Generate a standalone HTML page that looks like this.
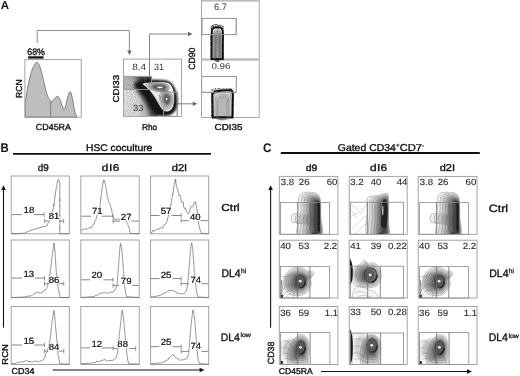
<!DOCTYPE html><html><head><meta charset="utf-8"><style>html,body{margin:0;padding:0;background:#fff;}svg{display:block;filter:blur(0.3px);}text{font-family:"Liberation Sans", sans-serif;text-rendering:geometricPrecision;}</style></head><body>
<svg width="520" height="376" viewBox="0 0 520 376">
<rect width="520" height="376" fill="#fff"/>
<text transform="translate(0.71,8.90) scale(1.004,1)" font-size="11.45" font-weight="bold" fill="#111" >A</text>
<path d="M37.2,43.0 L37.2,30.5 L129.4,30.5 L129.4,51.0" fill="none" stroke="#808080" stroke-width="0.9" stroke-linejoin="round" />
<path d="M127.2,50.5 L131.7,50.5 L129.4,55.0 Z" fill="#666"/>
<path d="M25.3,117.2 L25.3,101.6  C25.92,98.15 27.80,86.37 29.00,80.90 C30.20,75.43 31.35,71.82 32.50,68.80 C33.65,65.78 35.10,63.88 35.90,62.80 C36.70,61.72 36.72,61.87 37.30,62.30 C37.88,62.73 38.62,63.45 39.40,65.40 C40.18,67.35 41.13,70.70 42.00,74.00 C42.87,77.30 43.75,81.75 44.60,85.20 C45.45,88.65 46.10,92.02 47.10,94.70 C48.10,97.38 49.58,100.37 50.60,101.30 C51.62,102.23 52.33,100.97 53.20,100.30 C54.07,99.63 55.00,97.93 55.80,97.30 C56.60,96.67 57.28,96.07 58.00,96.50 C58.72,96.93 59.32,98.18 60.10,99.90 C60.88,101.62 61.98,105.13 62.70,106.80 C63.42,108.47 63.68,111.05 64.40,109.90 C65.12,108.75 66.22,102.72 67.00,99.90 C67.78,97.08 68.52,94.30 69.10,93.00 C69.68,91.70 69.98,91.38 70.50,92.10 C71.02,92.82 71.58,94.57 72.20,97.30 C72.82,100.03 73.48,105.30 74.20,108.50 C74.92,111.70 76.12,115.17 76.50,116.50 L77,117.2 Z" fill="#bebebe" stroke="#6a6a6a" stroke-width="0.8" stroke-linejoin="round"/>
<line x1="50.6" y1="101.3" x2="50.6" y2="117.2" stroke="#707070" stroke-width="0.8"/>
<rect x="24.9" y="59.6" width="56.30" height="57.60" fill="none" stroke="#9a9a9a" stroke-width="0.9"/>
<text transform="translate(27.26,54.60) scale(0.950,1)" font-size="9.29" font-weight="normal" fill="#111" stroke="#111" stroke-width="0.35">68%</text>
<rect x="28.1" y="56.3" width="15.4" height="2.3" fill="#111"/>
<text transform="translate(22.10,97.99) rotate(-90) scale(0.990,1)" font-size="8.71" font-weight="normal" fill="#111" stroke="#111" stroke-width="0.35">RCN</text>
<text transform="translate(35.85,130.20) scale(1.006,1)" font-size="8.86" font-weight="normal" fill="#111" stroke="#111" stroke-width="0.35">CD45RA</text>
<rect x="123.5" y="59.1" width="58.00" height="57.30" fill="none" stroke="#9a9a9a" stroke-width="0.9"/>
<text transform="translate(132.15,69.80) scale(1.098,1)" font-size="9.14" font-weight="normal" fill="#333" >8.4</text>
<text transform="translate(153.94,69.80) scale(0.997,1)" font-size="9.14" font-weight="normal" fill="#333" >31</text>
<text transform="translate(132.92,111.10) scale(1.068,1)" font-size="8.86" font-weight="normal" fill="#333" >33</text>
<text transform="translate(118.80,102.49) rotate(-90) scale(1.141,1)" font-size="8.57" font-weight="normal" fill="#111" stroke="#111" stroke-width="0.35">CDI33</text>
<text transform="translate(142.04,129.70) scale(0.984,1)" font-size="8.41" font-weight="normal" fill="#111" stroke="#111" stroke-width="0.35">Rho</text>
<rect x="124" y="76.4" width="27.50" height="13.00" fill="none" stroke="#9a9a9a" stroke-width="0.9"/>
<rect x="163.6" y="92.2" width="13.60" height="24.20" fill="none" stroke="#9a9a9a" stroke-width="0.9"/>
<path d="M149.5,75.8 L149.5,34.0 L188.5,34.0" fill="none" stroke="#777" stroke-width="0.9" stroke-linejoin="round" />
<path d="M188.0,31.8 L188.0,36.2 L192.5,34.0 Z" fill="#666"/>
<line x1="177.2" y1="103.8" x2="193.5" y2="103.8" stroke="#777" stroke-width="0.9"/>
<path d="M192.8,101.5 L192.8,106.0 L197.3,103.8 Z" fill="#666"/>
<text transform="translate(195.20,69.83) rotate(-90) scale(0.965,1)" font-size="9.00" font-weight="normal" fill="#111" stroke="#111" stroke-width="0.35">CD90</text>
<rect x="201.6" y="0.0" width="57.60" height="59.00" fill="none" stroke="#9a9a9a" stroke-width="0.9"/>
<rect x="201.6" y="0" width="57.6" height="1.6" fill="#bbb"/>
<text transform="translate(213.94,9.90) scale(0.993,1)" font-size="9.29" font-weight="normal" fill="#333" >6.7</text>
<rect x="201.9" y="18.4" width="34.30" height="16.20" fill="none" stroke="#9a9a9a" stroke-width="0.9"/>
<rect x="201.6" y="60.0" width="57.60" height="57.40" fill="none" stroke="#9a9a9a" stroke-width="0.9"/>
<text transform="translate(211.41,69.00) scale(1.161,1)" font-size="8.43" font-weight="normal" fill="#333" >0.96</text>
<rect x="201.6" y="76.5" width="34.70" height="15.80" fill="none" stroke="#9a9a9a" stroke-width="0.9"/>
<text transform="translate(214.51,129.80) scale(1.152,1)" font-size="8.57" font-weight="normal" fill="#111" stroke="#111" stroke-width="0.35">CDI35</text>
<defs>
<filter id="ab1" x="-30%" y="-30%" width="160%" height="160%"><feGaussianBlur stdDeviation="0.8"/></filter>
<filter id="ab2" x="-30%" y="-30%" width="160%" height="160%"><feGaussianBlur stdDeviation="1.6"/></filter>
<filter id="ab3" x="-30%" y="-30%" width="160%" height="160%"><feGaussianBlur stdDeviation="0.45"/></filter>
<filter id="speck" x="0" y="0" width="100%" height="100%">
 <feTurbulence type="fractalNoise" baseFrequency="1.1" numOctaves="1" seed="7" result="n"/>
 <feColorMatrix in="n" type="matrix" values="0 0 0 0 0  0 0 0 0 0  0 0 0 0 0  0 0 0 -3 2.1" result="al"/>
 <feComposite in="SourceGraphic" in2="al" operator="in"/>
</filter>
<linearGradient id="aband" x1="124" y1="0" x2="151" y2="0" gradientUnits="userSpaceOnUse">
 <stop offset="0" stop-color="#d2d2d2"/><stop offset="0.3" stop-color="#bdbdbd"/><stop offset="0.45" stop-color="#777"/><stop offset="0.6" stop-color="#2a2a2a"/><stop offset="1" stop-color="#222"/></linearGradient>
<linearGradient id="alow" x1="124" y1="0" x2="160" y2="0" gradientUnits="userSpaceOnUse">
 <stop offset="0" stop-color="#eeeeee"/><stop offset="0.4" stop-color="#e2e2e2"/><stop offset="0.6" stop-color="#b8b8b8"/><stop offset="0.8" stop-color="#555"/><stop offset="1" stop-color="#333"/></linearGradient>
<clipPath id="aclip"><rect x="124" y="59.6" width="57" height="56.4"/></clipPath>
</defs>
<g clip-path="url(#aclip)">
<path d="M124,89.5 L137,89.5 C143,93 149,100 154,108 C156,112 157,114 158,116.4 L124,116.4 Z" fill="url(#alow)" filter="url(#ab3)"/>
<path d="M124,89.5 L137,89.5 C143,93 149,100 154,108 C156,112 157,114 158,116.4 L124,116.4 Z" fill="#999" opacity="0.45" filter="url(#speck)"/>
<rect x="124.4" y="76.8" width="26.8" height="12.3" fill="url(#aband)" filter="url(#ab3)"/>
<rect x="124.4" y="76.8" width="26.8" height="12.3" fill="#777" opacity="0.5" filter="url(#speck)"/>
<path d="M134,84.5 C137,82 140,80.6 145,80.1 C152,79.6 160,79.7 166,80.4 C169.5,80.9 171.6,82.8 173.2,85.4 C175.2,88.5 176.7,93 177.5,98 C178,102 177.5,106 176.2,109.2 C174.7,112.3 172.2,114.3 168.6,115.5 C165,116.4 161,116.5 157.5,115.8 C154.5,114.8 152.3,112.5 150.5,109.5 C148,105 145.5,100 142.5,96 C140,92.8 137,89.5 134,84.5 Z" fill="#161616" filter="url(#ab1)"/>
<path d="M137,88 C140,90 143,94 146,99 C149,104 151.5,109 154,113 L156,116.4 L152,116.4 C149,112 146,106 143,101 C140.5,97 138,93 135.5,90 Z" fill="#333" opacity="0.7" filter="url(#ab2)"/>
<path d="M142.30,84.00 C142.30,83.20 144.88,82.93 146.50,82.60 C148.12,82.27 150.08,82.12 152.00,82.00 C153.92,81.88 155.87,81.92 158.00,81.90 C160.13,81.88 162.97,81.72 164.80,81.90 C166.63,82.08 167.83,82.32 169.00,83.00 C170.17,83.68 171.03,84.83 171.80,86.00 C172.57,87.17 173.18,88.50 173.60,90.00 C174.02,91.50 174.18,93.08 174.30,95.00 C174.42,96.92 174.43,99.67 174.30,101.50 C174.17,103.33 173.95,104.65 173.50,106.00 C173.05,107.35 172.52,108.63 171.60,109.60 C170.68,110.57 169.20,111.53 168.00,111.80 C166.80,112.07 165.53,111.75 164.40,111.20 C163.27,110.65 162.17,109.62 161.20,108.50 C160.23,107.38 159.47,105.92 158.60,104.50 C157.73,103.08 156.93,101.53 156.00,100.00 C155.07,98.47 154.00,96.77 153.00,95.30 C152.00,93.83 151.08,92.52 150.00,91.20 C148.92,89.88 147.78,88.60 146.50,87.40 C145.22,86.20 142.30,84.80 142.30,84.00 Z" fill="#f3f3f3" stroke="#222" stroke-width="0.8" filter="url(#ab3)"/>
<path d="M146.00,84.80 C145.92,83.87 148.33,83.67 150.00,83.40 C151.67,83.13 154.00,83.20 156.00,83.20 C158.00,83.20 160.08,83.18 162.00,83.40 C163.92,83.62 166.25,83.82 167.50,84.50 C168.75,85.18 169.42,86.45 169.50,87.50 C169.58,88.55 169.08,90.05 168.00,90.80 C166.92,91.55 165.00,91.93 163.00,92.00 C161.00,92.07 158.08,91.70 156.00,91.20 C153.92,90.70 152.17,90.07 150.50,89.00 C148.83,87.93 146.08,85.73 146.00,84.80 Z" fill="#000" fill-opacity="0.05" stroke="#555" stroke-width="0.45" /><path d="M147.98,85.28 C147.95,84.50 150.06,84.28 151.54,84.04 C153.02,83.80 155.12,83.86 156.88,83.86 C158.64,83.86 160.47,83.87 162.11,84.06 C163.75,84.25 165.68,84.45 166.73,85.03 C167.78,85.61 168.35,86.65 168.40,87.52 C168.45,88.40 167.98,89.65 167.01,90.27 C166.04,90.90 164.32,91.22 162.56,91.27 C160.80,91.33 158.25,91.01 156.44,90.58 C154.63,90.16 153.12,89.62 151.71,88.74 C150.30,87.85 148.01,86.07 147.98,85.28 Z" fill="#000" fill-opacity="0.08" stroke="#555" stroke-width="0.45" /><path d="M149.78,85.72 C149.80,85.08 151.62,84.83 152.94,84.62 C154.26,84.41 156.13,84.45 157.68,84.46 C159.23,84.47 160.82,84.49 162.21,84.66 C163.60,84.83 165.16,85.03 166.03,85.51 C166.90,85.99 167.39,86.83 167.40,87.54 C167.41,88.26 166.98,89.28 166.11,89.79 C165.24,90.30 163.70,90.58 162.16,90.61 C160.62,90.65 158.40,90.38 156.84,90.02 C155.28,89.67 153.99,89.21 152.81,88.50 C151.63,87.78 149.76,86.37 149.78,85.72 Z" fill="#000" fill-opacity="0.12" stroke="#555" stroke-width="0.45" /><path d="M151.40,86.12 C151.47,85.60 153.03,85.33 154.20,85.14 C155.37,84.95 157.05,84.99 158.40,85.00 C159.75,85.01 161.13,85.04 162.30,85.20 C163.47,85.36 164.70,85.55 165.40,85.94 C166.10,86.33 166.52,86.99 166.50,87.56 C166.48,88.13 166.08,88.95 165.30,89.36 C164.52,89.77 163.15,89.99 161.80,90.02 C160.45,90.05 158.53,89.81 157.20,89.52 C155.87,89.23 154.77,88.85 153.80,88.28 C152.83,87.71 151.33,86.64 151.40,86.12 Z" fill="#000" fill-opacity="0.2" stroke="#555" stroke-width="0.45" /><path d="M153.02,86.52 C153.13,86.12 154.44,85.82 155.46,85.66 C156.48,85.50 157.97,85.53 159.12,85.54 C160.28,85.55 161.45,85.60 162.39,85.74 C163.33,85.88 164.24,86.07 164.77,86.37 C165.31,86.68 165.65,87.15 165.60,87.58 C165.55,88.00 165.18,88.62 164.49,88.93 C163.80,89.24 162.59,89.41 161.44,89.43 C160.28,89.44 158.67,89.24 157.56,89.02 C156.45,88.79 155.55,88.48 154.79,88.06 C154.03,87.65 152.91,86.92 153.02,86.52 Z" fill="#000" fill-opacity="0.35" stroke="#555" stroke-width="0.45" />
<ellipse cx="160" cy="87.3" rx="2.8" ry="0.9" fill="#f4f4f4" filter="url(#ab3)"/>
<path d="M159.50,95.00 C159.88,93.75 160.72,92.25 161.80,91.50 C162.88,90.75 164.63,90.42 166.00,90.50 C167.37,90.58 168.92,91.08 170.00,92.00 C171.08,92.92 172.03,94.42 172.50,96.00 C172.97,97.58 173.00,99.75 172.80,101.50 C172.60,103.25 172.10,105.15 171.30,106.50 C170.50,107.85 169.22,109.23 168.00,109.60 C166.78,109.97 165.17,109.63 164.00,108.70 C162.83,107.77 161.75,105.62 161.00,104.00 C160.25,102.38 159.75,100.50 159.50,99.00 C159.25,97.50 159.12,96.25 159.50,95.00 Z" fill="#000" fill-opacity="0.05" stroke="#555" stroke-width="0.45" /><path d="M160.71,95.66 C161.03,94.58 161.73,93.26 162.64,92.60 C163.54,91.94 164.99,91.64 166.13,91.71 C167.27,91.77 168.57,92.21 169.47,92.99 C170.38,93.77 171.16,95.05 171.55,96.40 C171.94,97.74 171.97,99.58 171.81,101.06 C171.65,102.54 171.24,104.15 170.57,105.29 C169.91,106.43 168.84,107.61 167.82,107.93 C166.81,108.24 165.46,107.96 164.48,107.18 C163.51,106.40 162.60,104.60 161.97,103.25 C161.34,101.90 160.92,100.33 160.71,99.07 C160.50,97.80 160.39,96.74 160.71,95.66 Z" fill="#000" fill-opacity="0.08" stroke="#555" stroke-width="0.45" /><path d="M161.81,96.26 C162.07,95.34 162.66,94.17 163.40,93.60 C164.14,93.02 165.32,92.76 166.25,92.81 C167.18,92.86 168.25,93.23 168.99,93.89 C169.73,94.55 170.37,95.63 170.69,96.76 C171.01,97.88 171.04,99.42 170.91,100.66 C170.78,101.90 170.46,103.23 169.91,104.19 C169.37,105.15 168.50,106.14 167.66,106.41 C166.83,106.68 165.73,106.44 164.92,105.80 C164.12,105.16 163.37,103.68 162.85,102.57 C162.33,101.46 161.98,100.18 161.81,99.13 C161.64,98.07 161.55,97.18 161.81,96.26 Z" fill="#000" fill-opacity="0.12" stroke="#555" stroke-width="0.45" /><path d="M162.80,96.80 C163.01,96.02 163.49,95.00 164.08,94.50 C164.67,94.00 165.61,93.77 166.36,93.80 C167.11,93.83 167.97,94.15 168.56,94.70 C169.15,95.25 169.66,96.15 169.92,97.08 C170.18,98.01 170.20,99.28 170.10,100.30 C170.00,101.32 169.75,102.41 169.32,103.20 C168.89,103.99 168.19,104.81 167.52,105.04 C166.85,105.27 165.97,105.07 165.32,104.56 C164.67,104.05 164.06,102.86 163.64,101.96 C163.22,101.06 162.94,100.04 162.80,99.18 C162.66,98.32 162.59,97.58 162.80,96.80 Z" fill="#000" fill-opacity="0.2" stroke="#555" stroke-width="0.45" /><path d="M163.79,97.34 C163.95,96.70 164.32,95.83 164.76,95.40 C165.21,94.98 165.91,94.77 166.47,94.79 C167.03,94.81 167.68,95.07 168.13,95.51 C168.57,95.95 168.95,96.67 169.15,97.40 C169.34,98.14 169.36,99.14 169.29,99.94 C169.22,100.74 169.05,101.59 168.73,102.21 C168.41,102.83 167.88,103.49 167.38,103.67 C166.87,103.86 166.21,103.71 165.72,103.32 C165.23,102.93 164.75,102.03 164.43,101.35 C164.11,100.67 163.90,99.90 163.79,99.23 C163.68,98.57 163.63,97.98 163.79,97.34 Z" fill="#000" fill-opacity="0.35" stroke="#555" stroke-width="0.45" />
<ellipse cx="166.6" cy="99" rx="0.9" ry="1.3" fill="#eee" filter="url(#ab3)"/>
<path d="M146,87 C150,90 154,94.5 157,99.5 C159,103 161,106 163.5,108.5 M149,86.5 C153,89.5 157,93 159.5,97" fill="none" stroke="#8a8a8a" stroke-width="0.45"/>
</g>
<rect x="124" y="76.4" width="27.50" height="13.00" fill="none" stroke="#9a9a9a" stroke-width="0.9"/>
<rect x="163.6" y="92.2" width="13.60" height="24.20" fill="none" stroke="#9a9a9a" stroke-width="0.9"/>
<line x1="149.5" y1="59.1" x2="149.5" y2="76.4" stroke="#808080" stroke-width="0.9"/>
<text transform="translate(132.92,111.10) scale(1.068,1)" font-size="8.86" font-weight="normal" fill="#333" >33</text>
<ellipse cx="217.2" cy="27.5" rx="6.8" ry="3.4" fill="#333" opacity="0.85" filter="url(#speck)"/>
<ellipse cx="217.2" cy="28.8" rx="5.2" ry="2.0" fill="#222" opacity="0.7" filter="url(#ab1)"/>
<path d="M210.8,33 L210.8,58.5 M223.6,33 L223.6,58.5" fill="none" stroke="#444" stroke-width="1.4" opacity="0.8" filter="url(#speck)"/>
<path d="M211.8,31.5 C211.8,28.8 213,27.7 215.2,27.6 L219.4,27.6 C221.8,27.7 222.8,29 222.8,31.8 L222.8,59 L211.6,59 Z" fill="#ececec" stroke="#111" stroke-width="1.9" filter="url(#ab3)"/>
<path d="M213.60,59.00 C212.37,55.17 213.53,40.58 213.60,36.00 C213.67,31.42 213.52,32.50 214.00,31.50 C214.48,30.50 215.58,30.22 216.50,30.00 C217.42,29.78 218.75,29.87 219.50,30.20 C220.25,30.53 220.72,30.37 221.00,32.00 C221.28,33.63 221.20,35.50 221.20,40.00 C221.20,44.50 222.27,55.83 221.00,59.00 C219.73,62.17 214.83,62.83 213.60,59.00 Z" fill="#000" fill-opacity="0.08" stroke="#444" stroke-width="0.5" /><path d="M214.40,59.00 C213.41,55.50 214.34,42.31 214.40,38.00 C214.46,33.69 214.36,34.21 214.75,33.12 C215.14,32.04 216.00,31.74 216.72,31.50 C217.45,31.26 218.53,31.37 219.12,31.70 C219.72,32.03 220.10,31.95 220.32,33.50 C220.55,35.05 220.50,36.75 220.50,41.00 C220.50,45.25 221.37,56.00 220.35,59.00 C219.33,62.00 215.39,62.50 214.40,59.00 Z" fill="#000" fill-opacity="0.1" stroke="#444" stroke-width="0.5" /><path d="M215.20,59.00 C214.45,55.83 215.15,44.04 215.20,40.00 C215.25,35.96 215.21,35.92 215.50,34.75 C215.79,33.58 216.41,33.26 216.95,33.00 C217.49,32.74 218.30,32.87 218.75,33.20 C219.20,33.53 219.47,33.53 219.65,35.00 C219.83,36.47 219.79,38.00 219.80,42.00 C219.81,46.00 220.47,56.17 219.70,59.00 C218.93,61.83 215.95,62.17 215.20,59.00 Z" fill="#000" fill-opacity="0.12" stroke="#444" stroke-width="0.5" /><path d="M216.00,59.00 C215.49,56.17 215.96,45.77 216.00,42.00 C216.04,38.23 216.05,37.62 216.25,36.38 C216.45,35.12 216.82,34.78 217.18,34.50 C217.53,34.22 218.07,34.37 218.38,34.70 C218.68,35.03 218.85,35.12 218.98,36.50 C219.10,37.88 219.09,39.25 219.10,43.00 C219.11,46.75 219.57,56.33 219.05,59.00 C218.53,61.67 216.51,61.83 216.00,59.00 Z" fill="#000" fill-opacity="0.14" stroke="#444" stroke-width="0.5" />
<path d="M211.5,91 C215,88.6 222,87.8 233.5,88.6" fill="none" stroke="#444" stroke-width="2.6" opacity="0.8" filter="url(#speck)"/>
<path d="M211.2,95 L211.2,117 M234,92 L234,117" fill="none" stroke="#444" stroke-width="1.6" opacity="0.8" filter="url(#speck)"/>
<path d="M212.3,93.5 C214,92 217,91 221,90.6 C225,90.2 229,90.1 231.3,90.4 C232.6,91 232.9,92.5 232.8,95 L232.4,117.4 L212.8,117.4 Z" fill="#e8e8e8" stroke="#111" stroke-width="2.1" filter="url(#ab3)"/>
<path d="M214.50,117.40 C211.87,113.83 213.62,100.02 214.20,96.00 C214.78,91.98 216.37,93.87 218.00,93.30 C219.63,92.73 222.00,92.65 224.00,92.60 C226.00,92.55 228.90,92.43 230.00,93.00 C231.10,93.57 230.60,91.93 230.60,96.00 C230.60,100.07 232.68,113.83 230.00,117.40 C227.32,120.97 217.13,120.97 214.50,117.40 Z" fill="#000" fill-opacity="0.04" stroke="#6a6a6a" stroke-width="0.45" /><path d="M216.00,117.40 C213.83,114.23 215.16,102.13 215.64,98.40 C216.12,94.67 217.51,95.68 218.90,95.01 C220.29,94.34 222.32,94.35 224.00,94.37 C225.68,94.38 228.08,94.23 228.95,95.10 C229.82,95.97 229.27,95.88 229.22,99.60 C229.17,103.32 230.85,114.43 228.65,117.40 C226.45,120.37 218.17,120.57 216.00,117.40 Z" fill="#000" fill-opacity="0.05" stroke="#6a6a6a" stroke-width="0.45" /><path d="M217.25,117.40 C215.47,114.57 216.44,103.89 216.84,100.40 C217.24,96.91 218.46,97.19 219.65,96.44 C220.84,95.68 222.60,95.78 224.00,95.84 C225.40,95.91 227.40,95.72 228.07,96.85 C228.75,97.98 228.16,99.17 228.07,102.60 C227.98,106.02 229.33,114.93 227.53,117.40 C225.72,119.87 219.03,120.23 217.25,117.40 Z" fill="#000" fill-opacity="0.06" stroke="#6a6a6a" stroke-width="0.45" /><path d="M218.50,117.40 C217.11,114.90 217.72,105.66 218.04,102.40 C218.36,99.14 219.41,98.71 220.40,97.86 C221.39,97.01 222.87,97.20 224.00,97.32 C225.13,97.44 226.71,97.22 227.20,98.60 C227.69,99.98 227.05,102.47 226.92,105.60 C226.79,108.73 227.80,115.43 226.40,117.40 C225.00,119.37 219.89,119.90 218.50,117.40 Z" fill="#000" fill-opacity="0.07" stroke="#6a6a6a" stroke-width="0.45" />
<rect x="201.9" y="18.4" width="34.30" height="16.20" fill="none" stroke="#9a9a9a" stroke-width="0.9"/>
<rect x="201.6" y="76.5" width="34.70" height="15.80" fill="none" stroke="#9a9a9a" stroke-width="0.9"/>
<text transform="translate(0.41,151.60) scale(0.904,1)" font-size="12.61" font-weight="bold" fill="#111" >B</text>
<line x1="13" y1="153.9" x2="211" y2="153.9" stroke="#111" stroke-width="1.8"/>
<text transform="translate(85.98,150.80) scale(1.065,1)" font-size="9.66" font-weight="normal" fill="#111" stroke="#111" stroke-width="0.35">HSC coculture</text>
<rect x="11.2" y="176.0" width="58.10" height="57.80" fill="none" stroke="#9a9a9a" stroke-width="0.9"/>
<rect x="11.2" y="240.0" width="58.10" height="57.60" fill="none" stroke="#9a9a9a" stroke-width="0.9"/>
<rect x="11.2" y="306.5" width="58.10" height="58.00" fill="none" stroke="#9a9a9a" stroke-width="0.9"/>
<rect x="80.8" y="176.0" width="58.40" height="57.80" fill="none" stroke="#9a9a9a" stroke-width="0.9"/>
<rect x="80.8" y="240.0" width="58.40" height="57.60" fill="none" stroke="#9a9a9a" stroke-width="0.9"/>
<rect x="80.8" y="306.5" width="58.40" height="58.00" fill="none" stroke="#9a9a9a" stroke-width="0.9"/>
<rect x="150.6" y="176.0" width="58.10" height="57.80" fill="none" stroke="#9a9a9a" stroke-width="0.9"/>
<rect x="150.6" y="240.0" width="58.10" height="57.60" fill="none" stroke="#9a9a9a" stroke-width="0.9"/>
<rect x="150.6" y="306.5" width="58.10" height="58.00" fill="none" stroke="#9a9a9a" stroke-width="0.9"/>
<path d="M11.2,233.8 L12.3,233.8 L13.4,233.7 L14.6,233.7 L15.7,233.6 L16.8,233.6 L17.9,233.5 L19.1,233.4 L20.2,233.4 L21.3,233.3 L22.4,233.3 L23.6,233.2 L24.7,233.2 L25.9,232.5 L27.0,232.0 L29.0,231.2 L31.0,230.3 L33.0,229.8 L35.0,229.0 L37.0,228.6 L39.0,227.8 L41.0,227.4 L43.0,226.6 L44.4,226.5 L45.7,226.0 L46.6,226.2 L47.5,224.0 L48.4,222.7 L49.2,221.5 L49.5,220.4 L49.9,219.6 L50.2,217.4 L50.5,217.2 L50.9,216.4 L51.2,215.0 L51.6,214.7 L52.0,211.5 L52.4,211.0 L52.8,209.2 L53.2,209.2 L53.4,208.9 L53.6,207.3 L53.8,204.3 L53.9,205.8 L54.1,204.5 L54.3,202.0 L54.5,201.2 L54.6,199.9 L54.8,197.4 L55.0,195.8 L55.1,196.1 L55.3,194.8 L55.5,192.5 L55.6,191.7 L55.8,190.7 L56.0,189.0 L56.2,189.1 L56.3,187.9 L56.5,187.0 L56.7,186.7 L56.9,184.6 L57.1,183.6 L57.3,182.0 L57.6,180.7 L58.0,179.4 L58.8,180.0 L59.3,181.5 L59.8,182.0 L59.8,183.0 L59.8,183.6 L59.8,186.7 L59.8,187.8 L59.8,188.5 L59.8,189.2 L59.8,189.2 L59.8,190.1 L59.8,191.3 L59.8,191.8 L59.8,194.9 L59.8,194.9 L59.8,197.3 L59.8,197.1 L59.8,199.8 L59.8,200.6 L59.8,199.3 L59.8,201.0 L59.8,204.1 L59.8,204.0 L59.8,206.5 L59.8,206.0 L59.8,206.2 L59.8,208.8 L59.8,210.3 L59.8,210.0 L59.8,210.6 L59.8,212.4 L59.8,215.3 L59.8,215.8 L59.8,215.1 L59.8,216.6 L59.8,217.3 L59.8,218.2 L59.8,221.4 L59.8,220.8 L59.8,222.9 L59.8,223.7 L59.8,224.1 L59.8,226.7 L59.8,226.2 L59.8,228.7 L59.8,228.3 L59.8,230.3 L59.8,230.8 L59.8,232.1 L59.8,233.8 L61.0,233.8 L62.2,233.8 L63.4,233.8 L64.5,233.8 L65.7,233.8 L66.9,233.8 L68.1,233.8 L69.3,233.8" fill="none" stroke="#5a5a5a" stroke-width="0.65" stroke-linejoin="round" />
<line x1="11.4" y1="214.6" x2="22.1" y2="214.6" stroke="#7a7a7a" stroke-width="0.9"/>
<line x1="33.7" y1="214.6" x2="44.0" y2="214.6" stroke="#7a7a7a" stroke-width="0.9"/>
<line x1="44.0" y1="212.4" x2="44.0" y2="216.79999999999998" stroke="#7a7a7a" stroke-width="0.8"/>
<line x1="44.6" y1="221.0" x2="48.5" y2="221.0" stroke="#7a7a7a" stroke-width="0.9"/>
<line x1="59.6" y1="221.0" x2="63.7" y2="221.0" stroke="#7a7a7a" stroke-width="0.9"/>
<line x1="44.6" y1="218.8" x2="44.6" y2="223.2" stroke="#7a7a7a" stroke-width="0.8"/>
<line x1="63.7" y1="218.8" x2="63.7" y2="223.2" stroke="#7a7a7a" stroke-width="0.8"/>
<text transform="translate(23.6,212.7) scale(1.07,1)" font-size="9.0" fill="#2e2e2e" stroke="#fff" stroke-width="1.6" paint-order="stroke">18</text>
<text transform="translate(23.6,212.7) scale(1.07,1)" font-size="9.0" fill="#2e2e2e" stroke="#2e2e2e" stroke-width="0.04">18</text>
<text transform="translate(48.7,219.2) scale(1.07,1)" font-size="9.0" fill="#2e2e2e" stroke="#fff" stroke-width="1.6" paint-order="stroke">81</text>
<text transform="translate(48.7,219.2) scale(1.07,1)" font-size="9.0" fill="#2e2e2e" stroke="#2e2e2e" stroke-width="0.04">81</text>
<path d="M81.0,229.5 L82.2,230.1 L83.5,229.7 L84.8,228.8 L86.0,229.0 L87.2,229.3 L88.5,227.9 L89.8,227.9 L91.0,227.8 L91.8,227.4 L92.5,226.1 L93.2,224.3 L94.0,224.0 L94.5,223.7 L94.9,221.3 L95.4,220.3 L95.8,220.0 L96.3,218.5 L96.6,217.1 L97.0,216.0 L97.3,214.5 L97.7,213.4 L98.0,213.0 L98.4,211.9 L98.7,210.2 L99.1,209.6 L99.4,208.0 L99.8,207.0 L99.9,205.8 L100.1,205.5 L100.2,203.6 L100.3,202.7 L100.5,202.0 L100.6,199.8 L100.7,198.7 L100.9,198.8 L101.0,197.0 L101.1,196.4 L101.3,194.4 L101.4,193.2 L101.6,193.0 L101.7,192.2 L101.8,189.9 L102.0,190.0 L102.1,188.8 L102.3,187.3 L102.4,186.0 L102.7,184.7 L103.0,182.9 L103.2,181.6 L103.5,181.9 L103.8,179.9 L104.2,180.6 L104.6,182.4 L105.0,182.8 L105.4,184.3 L105.6,185.9 L105.8,186.7 L106.0,187.3 L106.1,188.2 L106.3,190.2 L106.5,191.0 L106.7,191.5 L106.9,193.0 L107.1,194.7 L107.3,196.4 L107.5,197.3 L107.7,198.3 L108.1,199.2 L108.6,201.4 L109.0,202.0 L109.4,202.6 L109.9,203.4 L110.3,205.3 L110.6,206.1 L110.9,207.6 L111.2,208.1 L111.5,210.0 L111.8,210.6 L112.0,212.0 L112.2,213.5 L112.5,213.9 L112.8,215.4 L113.0,216.7 L113.8,218.6 L114.7,219.3 L116.5,219.8 L118.2,218.5 L120.0,219.6 L122.0,219.5 L124.0,220.0 L126.0,220.2 L126.5,222.1 L127.0,222.7 L127.4,223.8 L127.9,224.6 L128.2,225.8 L128.6,226.2 L128.9,227.2 L129.2,229.0 L129.5,229.3 L129.8,231.9 L130.2,232.6 L130.5,233.4 L131.7,233.5 L133.0,233.5 L134.2,233.6 L135.5,233.6 L136.7,233.7 L138.0,233.7 L139.2,233.8" fill="none" stroke="#5a5a5a" stroke-width="0.65" stroke-linejoin="round" />
<line x1="81.2" y1="216.2" x2="91.0" y2="216.2" stroke="#7a7a7a" stroke-width="0.9"/>
<line x1="101.5" y1="216.2" x2="113.0" y2="216.2" stroke="#7a7a7a" stroke-width="0.9"/>
<line x1="113.0" y1="214.0" x2="113.0" y2="218.39999999999998" stroke="#7a7a7a" stroke-width="0.8"/>
<line x1="113.0" y1="221.1" x2="120.0" y2="221.1" stroke="#7a7a7a" stroke-width="0.9"/>
<line x1="131.4" y1="221.1" x2="139.0" y2="221.1" stroke="#7a7a7a" stroke-width="0.9"/>
<line x1="113.0" y1="218.9" x2="113.0" y2="223.29999999999998" stroke="#7a7a7a" stroke-width="0.8"/>
<text transform="translate(91.9,214.4) scale(1.07,1)" font-size="9.0" fill="#2e2e2e" stroke="#fff" stroke-width="1.6" paint-order="stroke">71</text>
<text transform="translate(91.9,214.4) scale(1.07,1)" font-size="9.0" fill="#2e2e2e" stroke="#2e2e2e" stroke-width="0.04">71</text>
<text transform="translate(120.8,219.7) scale(1.07,1)" font-size="9.0" fill="#2e2e2e" stroke="#fff" stroke-width="1.6" paint-order="stroke">27</text>
<text transform="translate(120.8,219.7) scale(1.07,1)" font-size="9.0" fill="#2e2e2e" stroke="#2e2e2e" stroke-width="0.04">27</text>
<path d="M150.6,232.0 L151.7,233.0 L152.9,230.1 L154.0,231.2 L155.2,230.8 L156.3,229.7 L157.5,229.0 L159.0,229.1 L160.5,228.0 L161.6,227.0 L162.6,228.3 L163.7,226.4 L164.6,224.0 L165.4,224.2 L166.3,222.9 L166.6,222.3 L166.9,221.6 L167.3,219.9 L167.6,218.0 L168.0,217.2 L168.5,216.2 L168.9,214.0 L169.2,214.0 L169.4,211.2 L169.7,210.9 L169.9,210.3 L170.2,208.0 L170.5,207.8 L170.7,205.3 L171.0,205.1 L171.2,204.1 L171.5,201.8 L171.7,200.9 L171.8,199.9 L172.0,198.2 L172.2,197.6 L172.4,196.6 L172.6,194.0 L172.7,194.5 L172.9,193.0 L173.1,193.1 L173.3,191.6 L173.5,189.9 L173.6,187.7 L173.8,187.4 L174.0,185.8 L174.2,184.3 L174.5,182.9 L174.8,182.8 L175.1,179.5 L175.4,179.4 L175.6,181.3 L175.8,180.4 L175.9,183.1 L176.1,184.0 L176.3,185.2 L176.6,185.8 L176.8,187.8 L177.6,188.5 L177.9,190.4 L178.1,191.2 L178.4,192.5 L178.7,193.9 L179.1,195.8 L179.4,195.7 L180.2,195.0 L180.4,195.6 L180.6,196.1 L180.9,198.2 L181.1,200.0 L181.6,201.8 L182.1,202.7 L183.0,201.8 L183.2,202.1 L183.4,203.2 L183.6,206.5 L183.8,206.5 L184.2,208.1 L184.7,208.8 L185.6,208.0 L185.9,209.0 L186.1,211.4 L186.4,211.5 L187.3,212.3 L188.2,214.1 L188.8,213.5 L189.5,212.0 L189.8,209.8 L190.2,209.1 L190.5,208.0 L191.7,206.2 L192.6,207.0 L193.1,206.4 L193.5,204.0 L194.3,203.6 L194.7,203.7 L195.1,201.5 L195.7,202.7 L196.0,205.2 L196.3,205.5 L196.5,206.6 L196.8,208.5 L197.0,209.7 L197.1,210.4 L197.3,211.1 L197.4,213.3 L197.5,215.5 L197.7,216.8 L197.8,217.0 L198.0,218.9 L198.1,220.8 L198.2,220.2 L198.4,221.1 L198.5,223.2 L198.7,224.6 L199.0,225.2 L199.3,226.2 L199.7,228.0 L200.0,229.5 L200.5,231.2 L200.9,232.1 L201.4,233.4 L202.6,233.5 L203.8,233.5 L205.1,233.6 L206.3,233.7 L207.5,233.7 L208.7,233.8" fill="none" stroke="#5a5a5a" stroke-width="0.65" stroke-linejoin="round" />
<line x1="150.8" y1="215.5" x2="159.6" y2="215.5" stroke="#7a7a7a" stroke-width="0.9"/>
<line x1="171.5" y1="215.5" x2="181.2" y2="215.5" stroke="#7a7a7a" stroke-width="0.9"/>
<line x1="181.2" y1="213.3" x2="181.2" y2="217.7" stroke="#7a7a7a" stroke-width="0.8"/>
<line x1="181.2" y1="220.7" x2="189.0" y2="220.7" stroke="#7a7a7a" stroke-width="0.9"/>
<line x1="200.5" y1="220.7" x2="208.5" y2="220.7" stroke="#7a7a7a" stroke-width="0.9"/>
<line x1="181.2" y1="218.5" x2="181.2" y2="222.89999999999998" stroke="#7a7a7a" stroke-width="0.8"/>
<text transform="translate(160.7,214.1) scale(1.07,1)" font-size="9.0" fill="#2e2e2e" stroke="#fff" stroke-width="1.6" paint-order="stroke">57</text>
<text transform="translate(160.7,214.1) scale(1.07,1)" font-size="9.0" fill="#2e2e2e" stroke="#2e2e2e" stroke-width="0.04">57</text>
<text transform="translate(190.0,219.7) scale(1.07,1)" font-size="9.0" fill="#2e2e2e" stroke="#fff" stroke-width="1.6" paint-order="stroke">40</text>
<text transform="translate(190.0,219.7) scale(1.07,1)" font-size="9.0" fill="#2e2e2e" stroke="#2e2e2e" stroke-width="0.04">40</text>
<path d="M11.2,297.6 L12.3,297.5 L13.5,297.5 L14.6,297.4 L15.8,297.4 L16.9,297.3 L18.1,297.3 L19.2,297.2 L20.4,297.2 L21.5,297.1 L22.7,297.1 L23.8,297.0 L25.4,296.8 L27.0,296.5 L28.3,295.9 L29.5,296.4 L30.8,295.6 L31.9,295.9 L33.0,294.6 L34.0,294.0 L35.0,292.9 L36.0,293.0 L37.5,292.2 L39.0,292.8 L40.6,293.0 L42.2,292.1 L44.0,291.2 L44.9,289.6 L45.7,289.5 L46.4,288.7 L47.0,287.2 L47.5,285.8 L48.0,284.2 L48.2,282.6 L48.5,282.1 L48.8,279.5 L49.0,279.0 L49.2,277.2 L49.4,276.4 L49.7,274.5 L49.9,274.6 L50.1,272.8 L50.2,271.2 L50.4,270.0 L50.5,268.7 L50.7,268.5 L50.9,267.0 L51.0,266.0 L51.1,265.0 L51.3,263.8 L51.4,262.9 L51.5,261.9 L51.7,260.3 L51.8,258.8 L51.9,257.2 L52.1,256.6 L52.2,255.0 L52.4,253.6 L52.5,253.3 L52.7,252.5 L52.9,250.6 L53.0,250.0 L53.2,248.5 L53.3,247.4 L53.5,246.8 L53.7,245.4 L53.8,244.3 L54.0,243.0 L54.2,244.9 L54.5,246.0 L54.6,247.0 L54.7,248.8 L54.8,250.1 L54.9,250.0 L55.0,251.8 L55.1,253.6 L55.1,254.5 L55.2,254.7 L55.3,256.3 L55.4,257.8 L55.5,259.4 L55.5,259.7 L55.6,261.0 L55.7,262.2 L55.7,263.8 L55.8,264.8 L55.9,266.2 L55.9,266.5 L56.0,267.9 L56.1,268.3 L56.1,270.2 L56.2,271.0 L56.3,272.7 L56.5,273.7 L56.6,275.0 L56.7,275.4 L56.8,277.7 L57.0,279.1 L57.1,279.5 L57.2,281.5 L57.4,282.0 L57.5,283.7 L57.7,284.1 L57.9,286.3 L58.0,286.9 L58.2,288.7 L58.5,289.1 L58.7,289.9 L59.0,291.7 L59.2,293.0 L59.5,294.2 L59.8,295.7 L60.0,296.4 L60.3,297.5 L61.4,297.5 L62.5,297.5 L63.7,297.5 L64.8,297.6 L65.9,297.6 L67.0,297.6 L68.2,297.6 L69.3,297.6" fill="none" stroke="#5a5a5a" stroke-width="0.65" stroke-linejoin="round" />
<line x1="11.4" y1="278.1" x2="22.0" y2="278.1" stroke="#7a7a7a" stroke-width="0.9"/>
<line x1="34.3" y1="278.1" x2="44.5" y2="278.1" stroke="#7a7a7a" stroke-width="0.9"/>
<line x1="44.5" y1="275.90000000000003" x2="44.5" y2="280.3" stroke="#7a7a7a" stroke-width="0.8"/>
<line x1="44.5" y1="283.7" x2="48.5" y2="283.7" stroke="#7a7a7a" stroke-width="0.9"/>
<line x1="58.9" y1="283.7" x2="63.8" y2="283.7" stroke="#7a7a7a" stroke-width="0.9"/>
<line x1="44.5" y1="281.5" x2="44.5" y2="285.9" stroke="#7a7a7a" stroke-width="0.8"/>
<line x1="63.8" y1="281.5" x2="63.8" y2="285.9" stroke="#7a7a7a" stroke-width="0.8"/>
<text transform="translate(23.4,276.7) scale(1.07,1)" font-size="9.0" fill="#2e2e2e" stroke="#fff" stroke-width="1.6" paint-order="stroke">13</text>
<text transform="translate(23.4,276.7) scale(1.07,1)" font-size="9.0" fill="#2e2e2e" stroke="#2e2e2e" stroke-width="0.04">13</text>
<text transform="translate(48.7,283.3) scale(1.07,1)" font-size="9.0" fill="#2e2e2e" stroke="#fff" stroke-width="1.6" paint-order="stroke">86</text>
<text transform="translate(48.7,283.3) scale(1.07,1)" font-size="9.0" fill="#2e2e2e" stroke="#2e2e2e" stroke-width="0.04">86</text>
<path d="M81.0,297.4 L82.2,297.3 L83.3,297.3 L84.5,297.2 L85.7,297.1 L86.8,297.1 L88.0,297.0 L89.3,296.9 L90.6,296.8 L91.9,296.7 L93.2,296.6 L94.5,296.5 L95.5,295.2 L96.5,295.5 L97.7,295.2 L98.9,293.9 L100.0,292.9 L101.0,293.2 L102.2,293.3 L103.3,292.5 L104.4,292.3 L105.5,293.2 L106.6,292.8 L107.7,293.0 L108.8,293.2 L110.0,292.4 L112.1,292.1 L114.0,291.0 L115.6,289.5 L115.9,287.8 L116.3,286.7 L116.7,286.2 L117.0,285.1 L117.1,284.3 L117.2,283.3 L117.3,281.9 L117.4,281.1 L117.5,279.2 L117.6,278.0 L117.7,277.6 L117.8,275.0 L117.9,274.1 L118.0,273.4 L118.1,271.9 L118.2,271.1 L118.3,270.3 L118.3,269.0 L118.4,267.7 L118.5,267.1 L118.6,265.5 L118.7,264.0 L118.7,262.9 L118.8,262.0 L118.9,261.3 L119.0,260.2 L119.1,257.9 L119.1,257.7 L119.2,256.7 L119.3,254.8 L119.4,253.5 L119.5,252.3 L119.6,250.4 L119.8,249.7 L119.9,248.3 L120.0,247.0 L120.2,246.0 L120.3,243.8 L120.5,243.4 L121.1,245.0 L121.3,246.9 L121.5,247.2 L121.7,248.3 L121.8,249.3 L121.9,251.2 L122.0,252.0 L122.1,253.0 L122.2,254.6 L122.3,254.7 L122.4,256.7 L122.5,257.7 L122.6,259.0 L122.7,260.8 L122.8,261.9 L122.8,261.9 L122.9,263.4 L123.0,263.9 L123.1,265.5 L123.2,267.2 L123.3,268.4 L123.3,268.9 L123.4,269.7 L123.5,271.1 L123.6,271.7 L123.7,273.5 L123.8,275.2 L123.8,275.0 L123.9,277.2 L124.0,277.1 L124.1,279.0 L124.2,279.6 L124.3,280.8 L124.4,282.6 L124.4,283.2 L124.5,284.3 L124.6,285.9 L124.7,286.8 L124.9,287.5 L125.1,289.8 L125.3,290.1 L125.5,292.0 L125.7,293.1 L126.0,293.9 L126.2,294.9 L126.4,296.5 L127.6,296.6 L128.7,296.7 L129.9,296.8 L131.1,296.9 L132.2,297.0 L133.4,297.1 L134.5,297.2 L135.7,297.3 L136.9,297.4 L138.0,297.5 L139.2,297.6" fill="none" stroke="#5a5a5a" stroke-width="0.65" stroke-linejoin="round" />
<line x1="81.2" y1="279.8" x2="90.2" y2="279.8" stroke="#7a7a7a" stroke-width="0.9"/>
<line x1="103.3" y1="279.8" x2="113.0" y2="279.8" stroke="#7a7a7a" stroke-width="0.9"/>
<line x1="113.0" y1="277.6" x2="113.0" y2="282.0" stroke="#7a7a7a" stroke-width="0.8"/>
<line x1="113.0" y1="285.4" x2="119.0" y2="285.4" stroke="#7a7a7a" stroke-width="0.9"/>
<line x1="132.2" y1="285.4" x2="139.0" y2="285.4" stroke="#7a7a7a" stroke-width="0.9"/>
<line x1="113.0" y1="283.2" x2="113.0" y2="287.59999999999997" stroke="#7a7a7a" stroke-width="0.8"/>
<text transform="translate(91.4,278.4) scale(1.07,1)" font-size="9.0" fill="#2e2e2e" stroke="#fff" stroke-width="1.6" paint-order="stroke">20</text>
<text transform="translate(91.4,278.4) scale(1.07,1)" font-size="9.0" fill="#2e2e2e" stroke="#2e2e2e" stroke-width="0.04">20</text>
<text transform="translate(120.8,283.7) scale(1.07,1)" font-size="9.0" fill="#2e2e2e" stroke="#fff" stroke-width="1.6" paint-order="stroke">79</text>
<text transform="translate(120.8,283.7) scale(1.07,1)" font-size="9.0" fill="#2e2e2e" stroke="#2e2e2e" stroke-width="0.04">79</text>
<path d="M150.6,297.0 L151.7,296.9 L152.8,296.8 L153.9,296.6 L155.0,296.5 L156.4,296.2 L157.9,295.8 L159.3,295.6 L160.7,294.9 L162.0,294.5 L163.2,293.6 L164.5,293.0 L165.7,292.4 L166.8,291.8 L167.9,290.7 L168.9,290.7 L170.6,290.2 L172.4,290.4 L174.2,291.2 L175.9,292.1 L177.6,293.1 L179.4,293.9 L180.5,293.4 L181.6,293.8 L182.7,293.9 L183.8,293.5 L185.3,292.3 L185.9,291.6 L186.5,290.4 L186.7,289.3 L186.9,288.6 L187.1,287.0 L187.3,286.2 L187.5,284.1 L187.7,283.3 L187.8,282.5 L187.9,281.4 L188.1,280.3 L188.2,278.1 L188.3,276.9 L188.4,276.0 L188.5,275.5 L188.6,273.1 L188.7,273.2 L188.8,271.8 L188.9,269.4 L189.0,268.4 L189.1,267.6 L189.2,266.7 L189.3,264.8 L189.4,263.3 L189.5,263.2 L189.6,261.3 L189.7,260.7 L189.8,259.0 L189.9,257.3 L190.0,256.6 L190.1,255.9 L190.2,253.7 L190.2,252.9 L190.3,252.5 L190.4,251.8 L190.5,250.0 L190.7,249.5 L190.8,246.9 L190.9,246.3 L191.1,245.0 L191.4,244.3 L191.7,242.7 L191.9,243.8 L192.1,245.2 L192.3,246.0 L192.4,246.7 L192.5,247.6 L192.7,248.8 L192.8,249.9 L192.9,251.8 L193.0,253.0 L193.1,254.1 L193.2,255.4 L193.2,255.8 L193.3,257.0 L193.4,258.2 L193.5,260.4 L193.6,261.0 L193.7,262.9 L193.8,263.9 L193.8,263.7 L193.9,264.8 L194.0,267.3 L194.1,267.7 L194.1,269.3 L194.2,269.7 L194.3,271.1 L194.4,272.2 L194.5,273.3 L194.6,274.3 L194.8,275.7 L194.9,275.9 L195.0,278.1 L195.1,279.4 L195.2,280.0 L195.3,280.7 L195.5,282.4 L195.6,284.1 L195.7,284.8 L195.8,285.7 L196.0,286.8 L196.1,288.6 L196.3,289.8 L196.6,290.3 L196.8,292.9 L197.0,293.5 L197.3,295.1 L197.6,296.2 L197.9,297.0 L199.1,297.1 L200.3,297.1 L201.5,297.2 L202.7,297.3 L203.9,297.3 L205.1,297.4 L206.3,297.5 L207.5,297.5 L208.7,297.6" fill="none" stroke="#5a5a5a" stroke-width="0.65" stroke-linejoin="round" />
<line x1="150.8" y1="278.6" x2="159.6" y2="278.6" stroke="#7a7a7a" stroke-width="0.9"/>
<line x1="172.4" y1="278.6" x2="181.2" y2="278.6" stroke="#7a7a7a" stroke-width="0.9"/>
<line x1="181.2" y1="276.40000000000003" x2="181.2" y2="280.8" stroke="#7a7a7a" stroke-width="0.8"/>
<line x1="181.2" y1="283.7" x2="189.0" y2="283.7" stroke="#7a7a7a" stroke-width="0.9"/>
<line x1="201.4" y1="283.7" x2="208.5" y2="283.7" stroke="#7a7a7a" stroke-width="0.9"/>
<line x1="181.2" y1="281.5" x2="181.2" y2="285.9" stroke="#7a7a7a" stroke-width="0.8"/>
<text transform="translate(160.7,277.7) scale(1.07,1)" font-size="9.0" fill="#2e2e2e" stroke="#fff" stroke-width="1.6" paint-order="stroke">25</text>
<text transform="translate(160.7,277.7) scale(1.07,1)" font-size="9.0" fill="#2e2e2e" stroke="#2e2e2e" stroke-width="0.04">25</text>
<text transform="translate(190.5,282.5) scale(1.07,1)" font-size="9.0" fill="#2e2e2e" stroke="#fff" stroke-width="1.6" paint-order="stroke">74</text>
<text transform="translate(190.5,282.5) scale(1.07,1)" font-size="9.0" fill="#2e2e2e" stroke="#2e2e2e" stroke-width="0.04">74</text>
<path d="M11.2,363.7 L12.4,363.5 L13.6,363.3 L14.8,363.7 L16.1,363.1 L17.3,362.5 L18.5,362.5 L19.7,362.3 L20.8,361.8 L22.0,361.5 L23.2,362.0 L24.3,361.5 L25.5,360.7 L26.7,360.5 L27.8,361.8 L29.0,361.3 L30.2,361.8 L31.3,361.9 L32.5,361.6 L33.7,361.9 L34.8,361.0 L36.0,361.0 L37.2,361.7 L38.4,361.8 L39.6,361.3 L40.8,361.1 L42.0,360.3 L43.0,360.1 L44.0,359.0 L44.5,358.2 L45.0,356.5 L45.4,354.9 L45.7,353.7 L46.6,352.8 L47.5,351.1 L47.8,349.1 L48.1,348.3 L48.5,347.2 L48.8,346.0 L49.1,344.0 L49.3,343.2 L49.6,342.4 L49.8,341.2 L50.1,339.7 L50.2,338.0 L50.4,337.9 L50.5,336.2 L50.6,334.5 L50.7,333.7 L50.9,332.4 L51.0,331.0 L51.1,329.9 L51.2,328.5 L51.3,328.4 L51.5,326.7 L51.6,325.6 L51.7,324.6 L51.8,323.0 L52.0,322.6 L52.2,319.9 L52.4,319.7 L52.6,318.7 L52.8,316.8 L53.0,316.0 L53.2,314.7 L53.4,313.0 L53.6,312.2 L53.8,311.3 L54.0,310.4 L54.2,311.0 L54.3,312.4 L54.5,314.0 L54.6,315.7 L54.7,316.3 L54.8,317.3 L54.9,319.1 L55.0,319.5 L55.1,320.8 L55.2,322.7 L55.3,323.3 L55.4,324.7 L55.5,324.8 L55.6,326.8 L55.7,328.2 L55.8,329.0 L55.9,329.5 L56.0,332.1 L56.1,332.1 L56.2,333.9 L56.4,334.6 L56.5,336.3 L56.6,337.8 L56.7,338.8 L56.8,339.3 L56.9,341.9 L57.0,342.2 L57.1,343.5 L57.2,344.8 L57.3,345.6 L57.4,347.0 L57.5,347.9 L57.6,349.8 L57.7,350.9 L57.8,351.7 L57.9,353.7 L58.0,354.6 L58.2,355.6 L58.5,356.5 L58.8,358.2 L59.0,360.0 L59.2,360.5 L59.5,361.9 L59.7,363.7 L60.9,363.8 L62.1,363.8 L63.3,363.9 L64.5,363.9 L65.7,364.0 L66.9,364.1 L68.1,364.1 L69.3,364.2" fill="none" stroke="#5a5a5a" stroke-width="0.65" stroke-linejoin="round" />
<line x1="11.4" y1="345.0" x2="22.0" y2="345.0" stroke="#7a7a7a" stroke-width="0.9"/>
<line x1="34.3" y1="345.0" x2="44.5" y2="345.0" stroke="#7a7a7a" stroke-width="0.9"/>
<line x1="44.5" y1="342.8" x2="44.5" y2="347.2" stroke="#7a7a7a" stroke-width="0.8"/>
<line x1="44.5" y1="351.1" x2="48.3" y2="351.1" stroke="#7a7a7a" stroke-width="0.9"/>
<line x1="58.9" y1="351.1" x2="63.8" y2="351.1" stroke="#7a7a7a" stroke-width="0.9"/>
<line x1="44.5" y1="348.90000000000003" x2="44.5" y2="353.3" stroke="#7a7a7a" stroke-width="0.8"/>
<line x1="63.8" y1="348.90000000000003" x2="63.8" y2="353.3" stroke="#7a7a7a" stroke-width="0.8"/>
<text transform="translate(23.4,343.7) scale(1.07,1)" font-size="9.0" fill="#2e2e2e" stroke="#fff" stroke-width="1.6" paint-order="stroke">15</text>
<text transform="translate(23.4,343.7) scale(1.07,1)" font-size="9.0" fill="#2e2e2e" stroke="#2e2e2e" stroke-width="0.04">15</text>
<text transform="translate(48.7,349.7) scale(1.07,1)" font-size="9.0" fill="#2e2e2e" stroke="#fff" stroke-width="1.6" paint-order="stroke">84</text>
<text transform="translate(48.7,349.7) scale(1.07,1)" font-size="9.0" fill="#2e2e2e" stroke="#2e2e2e" stroke-width="0.04">84</text>
<path d="M81.0,363.7 L82.2,363.6 L83.5,363.5 L84.8,363.5 L86.0,363.4 L87.2,363.3 L88.5,363.2 L89.8,363.5 L91.0,363.0 L92.2,362.6 L93.3,363.2 L94.5,362.4 L95.7,362.5 L96.8,361.1 L98.0,361.6 L99.3,361.8 L100.6,360.5 L101.9,360.9 L103.3,359.9 L104.7,359.5 L106.0,360.4 L107.3,361.2 L108.6,360.7 L109.8,360.4 L111.0,360.4 L113.0,360.2 L114.6,359.4 L115.9,358.1 L116.3,356.5 L116.8,355.0 L117.1,354.5 L117.4,352.0 L117.7,351.1 L117.8,350.0 L117.9,349.4 L118.1,347.9 L118.2,346.3 L118.3,345.9 L118.4,344.0 L118.5,343.4 L118.6,341.9 L118.8,339.9 L118.9,339.6 L119.0,338.2 L119.1,337.1 L119.2,335.5 L119.4,334.1 L119.5,333.7 L119.6,331.9 L119.7,331.2 L119.9,330.4 L120.0,329.0 L120.1,327.8 L120.2,326.4 L120.3,325.8 L120.5,324.5 L120.6,323.9 L120.7,322.4 L120.8,321.3 L120.9,320.8 L121.1,319.5 L121.2,317.9 L121.4,315.8 L121.5,315.0 L121.7,313.1 L121.8,313.1 L122.0,311.6 L122.2,309.9 L122.5,311.6 L122.8,313.0 L123.0,314.0 L123.2,315.0 L123.3,316.9 L123.5,317.8 L123.6,319.1 L123.7,320.2 L123.8,321.5 L123.9,322.8 L124.0,323.1 L124.1,324.3 L124.2,326.6 L124.3,327.0 L124.4,328.8 L124.5,329.9 L124.6,329.6 L124.7,330.8 L124.8,332.2 L124.9,333.6 L125.0,335.1 L125.1,335.3 L125.2,337.1 L125.3,338.3 L125.4,338.6 L125.5,339.8 L125.7,341.8 L125.8,342.7 L125.9,344.0 L126.0,344.7 L126.1,346.0 L126.2,347.2 L126.4,348.0 L126.5,349.4 L126.6,351.3 L126.7,352.7 L126.9,352.7 L127.0,354.6 L127.2,355.3 L127.4,357.8 L127.6,358.8 L127.8,360.0 L128.1,361.7 L128.4,362.0 L128.7,363.7 L129.9,363.8 L131.0,363.8 L132.2,363.9 L133.4,363.9 L134.5,364.0 L135.7,364.0 L136.9,364.1 L138.0,364.1 L139.2,364.2" fill="none" stroke="#5a5a5a" stroke-width="0.65" stroke-linejoin="round" />
<line x1="81.2" y1="347.9" x2="90.2" y2="347.9" stroke="#7a7a7a" stroke-width="0.9"/>
<line x1="101.5" y1="347.9" x2="113.0" y2="347.9" stroke="#7a7a7a" stroke-width="0.9"/>
<line x1="113.0" y1="345.7" x2="113.0" y2="350.09999999999997" stroke="#7a7a7a" stroke-width="0.8"/>
<line x1="113.0" y1="348.5" x2="117.0" y2="348.5" stroke="#7a7a7a" stroke-width="0.9"/>
<line x1="129.6" y1="348.5" x2="135.7" y2="348.5" stroke="#7a7a7a" stroke-width="0.9"/>
<line x1="135.7" y1="346.3" x2="135.7" y2="350.7" stroke="#7a7a7a" stroke-width="0.8"/>
<text transform="translate(91.4,346.7) scale(1.07,1)" font-size="9.0" fill="#2e2e2e" stroke="#fff" stroke-width="1.6" paint-order="stroke">12</text>
<text transform="translate(91.4,346.7) scale(1.07,1)" font-size="9.0" fill="#2e2e2e" stroke="#2e2e2e" stroke-width="0.04">12</text>
<text transform="translate(117.3,347.2) scale(1.07,1)" font-size="9.0" fill="#2e2e2e" stroke="#fff" stroke-width="1.6" paint-order="stroke">88</text>
<text transform="translate(117.3,347.2) scale(1.07,1)" font-size="9.0" fill="#2e2e2e" stroke="#2e2e2e" stroke-width="0.04">88</text>
<path d="M150.6,363.7 L151.8,363.6 L152.9,363.6 L154.1,363.5 L155.2,363.5 L156.3,363.4 L157.5,363.4 L158.8,363.1 L160.2,362.6 L161.5,363.2 L162.8,362.5 L163.9,361.7 L165.0,361.4 L166.1,360.9 L167.2,359.9 L168.1,359.8 L168.9,357.8 L169.8,357.2 L170.7,356.4 L171.5,355.5 L173.0,354.6 L174.0,355.2 L175.0,356.7 L175.9,357.9 L176.8,358.3 L178.6,359.5 L179.8,360.4 L181.0,359.9 L183.0,359.9 L185.0,359.3 L186.0,358.6 L187.0,358.1 L187.5,356.8 L188.0,356.0 L188.3,353.8 L188.7,352.9 L188.8,352.4 L188.9,350.0 L189.0,348.8 L189.1,348.5 L189.2,347.2 L189.3,346.4 L189.4,345.0 L189.5,343.5 L189.6,343.2 L189.7,340.9 L189.7,340.0 L189.8,339.6 L189.9,337.6 L190.0,337.1 L190.1,335.6 L190.2,335.2 L190.3,334.0 L190.4,332.2 L190.5,330.8 L190.6,330.0 L190.7,329.5 L190.8,328.0 L190.9,326.6 L191.1,325.0 L191.2,324.7 L191.3,323.3 L191.4,322.6 L191.6,321.4 L191.7,319.5 L191.8,319.0 L192.0,317.0 L192.1,316.4 L192.3,314.4 L192.4,313.5 L192.6,312.0 L192.9,310.9 L193.1,309.9 L193.4,311.8 L193.6,312.9 L193.9,313.5 L194.1,314.3 L194.2,315.7 L194.4,316.9 L194.5,318.1 L194.7,319.5 L194.8,320.5 L194.9,321.7 L195.0,322.5 L195.1,324.3 L195.1,325.8 L195.2,326.6 L195.3,328.2 L195.4,328.9 L195.5,330.0 L195.6,330.7 L195.7,332.8 L195.8,334.1 L195.9,334.4 L196.0,335.1 L196.1,337.1 L196.2,338.3 L196.3,339.5 L196.4,340.6 L196.5,342.5 L196.6,343.2 L196.7,344.6 L196.8,344.6 L196.8,346.5 L196.9,348.1 L197.0,348.2 L197.1,350.0 L197.2,350.5 L197.3,352.7 L197.4,354.1 L197.6,354.0 L197.7,356.0 L197.8,356.4 L197.9,358.1 L198.2,359.6 L198.4,360.6 L198.7,361.5 L199.1,362.2 L199.6,363.7 L200.7,363.8 L201.9,363.8 L203.0,363.9 L204.1,363.9 L205.3,364.0 L206.4,364.1 L207.6,364.1 L208.7,364.2" fill="none" stroke="#5a5a5a" stroke-width="0.65" stroke-linejoin="round" />
<line x1="150.8" y1="346.7" x2="159.3" y2="346.7" stroke="#7a7a7a" stroke-width="0.9"/>
<line x1="172.4" y1="346.7" x2="181.2" y2="346.7" stroke="#7a7a7a" stroke-width="0.9"/>
<line x1="181.2" y1="344.5" x2="181.2" y2="348.9" stroke="#7a7a7a" stroke-width="0.8"/>
<line x1="181.2" y1="351.4" x2="189.0" y2="351.4" stroke="#7a7a7a" stroke-width="0.9"/>
<line x1="201.4" y1="351.4" x2="208.5" y2="351.4" stroke="#7a7a7a" stroke-width="0.9"/>
<line x1="181.2" y1="349.2" x2="181.2" y2="353.59999999999997" stroke="#7a7a7a" stroke-width="0.8"/>
<text transform="translate(160.7,345.0) scale(1.07,1)" font-size="9.0" fill="#2e2e2e" stroke="#fff" stroke-width="1.6" paint-order="stroke">25</text>
<text transform="translate(160.7,345.0) scale(1.07,1)" font-size="9.0" fill="#2e2e2e" stroke="#2e2e2e" stroke-width="0.04">25</text>
<text transform="translate(190.5,349.3) scale(1.07,1)" font-size="9.0" fill="#2e2e2e" stroke="#fff" stroke-width="1.6" paint-order="stroke">74</text>
<text transform="translate(190.5,349.3) scale(1.07,1)" font-size="9.0" fill="#2e2e2e" stroke="#2e2e2e" stroke-width="0.04">74</text>
<text transform="translate(37.71,171.00) scale(0.992,1)" font-size="9.93" font-weight="normal" fill="#111" stroke="#111" stroke-width="0.35">d9</text>
<text transform="translate(101.72,171.00) scale(1.200,1)" font-size="9.93" font-weight="normal" fill="#111" letter-spacing="0.47" stroke="#111" stroke-width="0.35">dI6</text>
<text transform="translate(171.76,171.00) scale(1.115,1)" font-size="9.93" font-weight="normal" fill="#111" stroke="#111" stroke-width="0.35">d2I</text>
<line x1="3.5" y1="327.7" x2="3.5" y2="189" stroke="#111" stroke-width="1.1"/>
<path d="M1.2,190.1 L5.8,190.1 L3.5,185.3 Z" fill="#111"/>
<text transform="translate(7.50,364.65) rotate(-90) scale(1.100,1)" font-size="8.57" font-weight="normal" fill="#111" stroke="#111" stroke-width="0.35">RCN</text>
<text transform="translate(11.55,374.20) scale(1.051,1)" font-size="8.57" font-weight="normal" fill="#111" stroke="#111" stroke-width="0.35">CD34</text>
<line x1="52.6" y1="370" x2="200.5" y2="370" stroke="#111" stroke-width="1.1"/>
<path d="M199.6,367.7 L199.6,372.3 L204.6,370.0 Z" fill="#111"/>
<text transform="translate(221.20,211.20) scale(1.170,1)" font-size="10.21" font-weight="normal" fill="#111" stroke="#111" stroke-width="0.35">Ctrl</text>
<text transform="translate(221.46,276.60) scale(0.965,1)" font-size="10.87" font-weight="normal" fill="#111" stroke="#111" stroke-width="0.35">DL4</text>
<text transform="translate(241.0,272.7) scale(1.05,1)" font-size="6.4" fill="#111" stroke="#111" stroke-width="0.25">hi</text>
<text transform="translate(220.66,340.50) scale(0.953,1)" font-size="11.01" font-weight="normal" fill="#111" stroke="#111" stroke-width="0.35">DL4</text>
<text transform="translate(240.4,337.0) scale(1.1,1)" font-size="6.4" fill="#111" stroke="#111" stroke-width="0.25">low</text>
<text transform="translate(263.03,152.10) scale(0.935,1)" font-size="12.57" font-weight="bold" fill="#111" >C</text>
<line x1="280.8" y1="153.0" x2="479.8" y2="153.0" stroke="#111" stroke-width="1.8"/>
<text transform="translate(337.78,150.80) scale(1.053,1)" font-size="9.93" font-weight="normal" fill="#111" stroke="#111" stroke-width="0.35">Gated CD34</text>
<text transform="translate(395.98,147.10) scale(1.159,1)" font-size="5.52" font-weight="normal" fill="#111" stroke="#1c1c1c" stroke-width="0.3">+</text>
<text transform="translate(399.64,150.80) scale(1.111,1)" font-size="10.00" font-weight="normal" fill="#111" stroke="#111" stroke-width="0.35">CD7</text>
<rect x="422.2" y="145.5" width="1.8" height="1.0" fill="#333"/>
<defs>
<filter id="bl1" x="-20%" y="-20%" width="140%" height="140%"><feGaussianBlur stdDeviation="0.6"/></filter>
<filter id="bl2" x="-20%" y="-20%" width="140%" height="140%"><feGaussianBlur stdDeviation="1.0"/></filter>
<clipPath id="cclip"><rect x="0.4" y="0.4" width="57.8" height="57.3"/></clipPath>
</defs>
<g transform="translate(279.3,176.4)">
<g clip-path="url(#cclip)"><path d="M18.50,60.00 C14.68,57.83 19.43,49.25 18.60,47.00 C17.77,44.75 14.60,47.33 13.50,46.50 C12.40,45.67 12.00,43.50 12.00,42.00 C12.00,40.50 12.40,38.58 13.50,37.50 C14.60,36.42 17.70,37.75 18.60,35.50 C19.50,33.25 18.53,26.88 18.90,24.00 C19.27,21.12 19.78,19.50 20.80,18.20 C21.82,16.90 23.30,16.58 25.00,16.20 C26.70,15.82 29.08,15.83 31.00,15.90 C32.92,15.97 35.03,16.00 36.50,16.60 C37.97,17.20 39.00,17.93 39.80,19.50 C40.60,21.07 41.02,22.58 41.30,26.00 C41.58,29.42 41.47,34.33 41.50,40.00 C41.53,45.67 45.33,56.67 41.50,60.00 C37.67,63.33 22.32,62.17 18.50,60.00 Z" fill="#000" fill-opacity="0.06" stroke="#777" stroke-width="0.4" /><path d="M21.40,60.00 C18.09,57.97 22.18,50.01 21.48,47.80 C20.78,45.59 18.12,47.63 17.20,46.74 C16.27,45.85 15.94,43.93 15.94,42.48 C15.94,41.03 16.27,39.18 17.20,38.06 C18.12,36.94 20.72,37.87 21.48,35.74 C22.24,33.61 21.42,27.97 21.73,25.28 C22.05,22.59 22.50,20.89 23.38,19.61 C24.26,18.33 25.55,17.99 27.02,17.61 C28.49,17.22 30.54,17.23 32.20,17.29 C33.86,17.35 35.68,17.41 36.95,17.98 C38.21,18.54 39.11,19.20 39.80,20.70 C40.49,22.20 40.86,23.61 41.11,26.96 C41.36,30.31 41.27,35.29 41.31,40.80 C41.34,46.31 44.63,56.80 41.31,60.00 C37.99,63.20 24.70,62.03 21.40,60.00 Z" fill="#000" fill-opacity="0.085" stroke="#777" stroke-width="0.4" /><path d="M24.29,60.00 C21.50,58.10 24.93,50.77 24.36,48.60 C23.79,46.43 21.64,47.92 20.89,46.98 C20.14,46.04 19.87,44.35 19.87,42.96 C19.87,41.57 20.14,39.78 20.89,38.62 C21.64,37.46 23.75,37.99 24.36,35.98 C24.97,33.97 24.30,29.05 24.56,26.56 C24.83,24.07 25.21,22.27 25.95,21.02 C26.70,19.76 27.79,19.40 29.03,19.02 C30.27,18.63 32.01,18.63 33.40,18.68 C34.79,18.74 36.33,18.82 37.40,19.35 C38.46,19.89 39.21,20.47 39.80,21.90 C40.39,23.33 40.70,24.64 40.92,27.92 C41.14,31.20 41.08,36.25 41.12,41.60 C41.15,46.95 43.92,56.93 41.12,60.00 C38.31,63.07 27.08,61.90 24.29,60.00 Z" fill="#000" fill-opacity="0.11" stroke="#777" stroke-width="0.4" /><path d="M27.19,60.00 C24.91,58.23 27.67,51.53 27.24,49.40 C26.81,47.27 25.16,48.21 24.59,47.22 C24.02,46.23 23.81,44.78 23.81,43.44 C23.81,42.10 24.02,40.38 24.59,39.18 C25.16,37.98 26.77,38.11 27.24,36.22 C27.71,34.33 27.18,30.14 27.40,27.84 C27.61,25.54 27.92,23.66 28.53,22.42 C29.14,21.19 30.04,20.82 31.05,20.42 C32.06,20.03 33.47,20.03 34.60,20.08 C35.73,20.13 36.98,20.22 37.84,20.73 C38.71,21.23 39.32,21.74 39.80,23.10 C40.28,24.46 40.54,25.66 40.72,28.88 C40.91,32.10 40.89,37.21 40.92,42.40 C40.96,47.59 43.21,57.07 40.92,60.00 C38.63,62.93 29.47,61.77 27.19,60.00 Z" fill="#000" fill-opacity="0.15" stroke="#777" stroke-width="0.4" /><path d="M29.72,60.00 C27.89,58.35 30.08,52.20 29.76,50.10 C29.44,48.01 28.24,48.47 27.82,47.43 C27.40,46.39 27.25,45.15 27.25,43.86 C27.25,42.57 27.40,40.91 27.82,39.67 C28.24,38.43 29.42,38.22 29.76,36.43 C30.10,34.64 29.70,31.09 29.87,28.96 C30.04,26.83 30.29,24.87 30.78,23.66 C31.27,22.44 32.00,22.05 32.81,21.66 C33.62,21.26 34.75,21.25 35.65,21.29 C36.55,21.34 37.54,21.46 38.24,21.93 C38.93,22.41 39.41,22.85 39.80,24.15 C40.19,25.45 40.40,26.56 40.56,29.72 C40.72,32.88 40.72,38.05 40.76,43.10 C40.79,48.15 42.59,57.18 40.76,60.00 C38.92,62.82 31.55,61.65 29.72,60.00 Z" fill="#000" fill-opacity="0.2" stroke="#777" stroke-width="0.4" /><path d="M32.26,60.00 C30.87,58.47 32.48,52.86 32.28,50.80 C32.08,48.74 31.32,48.73 31.06,47.64 C30.79,46.55 30.70,45.53 30.70,44.28 C30.70,43.03 30.79,41.43 31.06,40.16 C31.32,38.89 32.06,38.32 32.28,36.64 C32.50,34.96 32.23,32.04 32.35,30.08 C32.48,28.12 32.67,26.09 33.04,24.89 C33.41,23.69 33.97,23.28 34.58,22.89 C35.19,22.49 36.02,22.47 36.70,22.51 C37.38,22.55 38.11,22.69 38.63,23.14 C39.14,23.58 39.51,23.96 39.80,25.20 C40.09,26.44 40.26,27.46 40.39,30.56 C40.52,33.66 40.55,38.89 40.59,43.80 C40.62,48.71 41.98,57.30 40.59,60.00 C39.20,62.70 33.64,61.53 32.26,60.00 Z" fill="#000" fill-opacity="0.25" stroke="#777" stroke-width="0.4" /><path d="M34.43,60.00 C33.43,58.57 34.54,53.43 34.44,51.40 C34.34,49.37 33.96,48.95 33.83,47.82 C33.70,46.69 33.65,45.85 33.65,44.64 C33.65,43.43 33.70,41.88 33.83,40.58 C33.96,39.28 34.33,38.41 34.44,36.82 C34.55,35.23 34.39,32.85 34.48,31.04 C34.56,29.23 34.70,27.13 34.97,25.94 C35.24,24.76 35.65,24.34 36.09,23.94 C36.53,23.55 37.12,23.52 37.60,23.56 C38.08,23.59 38.60,23.74 38.96,24.17 C39.33,24.59 39.59,24.91 39.80,26.10 C40.01,27.29 40.14,28.23 40.24,31.28 C40.35,34.33 40.41,39.61 40.44,44.40 C40.48,49.19 41.45,57.40 40.44,60.00 C39.44,62.60 35.43,61.43 34.43,60.00 Z" fill="#000" fill-opacity="0.3" stroke="#777" stroke-width="0.4" /><rect x="38.2" y="25" width="2.4" height="30" fill="#1e1e1e" filter="url(#bl1)"/><rect x="30.6" y="27" width="1.2" height="27" fill="#555" filter="url(#bl1)"/><ellipse cx="34.8" cy="57.3" rx="2.4" ry="1.0" fill="#1a1a1a"/></g>
<rect x="1.2" y="26.2" width="49.1" height="31.7" fill="none" stroke="#8a8a8a" stroke-width="0.8"/>
<line x1="18.4" y1="26.2" x2="18.4" y2="57.9" stroke="#6a6a6a" stroke-width="0.8"/>
<line x1="31.3" y1="26.2" x2="31.3" y2="57.9" stroke="#6a6a6a" stroke-width="0.8"/>
<text transform="translate(1.5,8.9) scale(1.07,1)" font-size="9.0" fill="#2a2a2a" stroke="#2a2a2a" stroke-width="0.12">3.8</text>
<text transform="translate(19.5,8.9) scale(1.07,1)" font-size="9.0" fill="#2a2a2a" stroke="#2a2a2a" stroke-width="0.12">26</text>
<text transform="translate(47.4,8.9) scale(1.07,1)" font-size="9.0" fill="#2a2a2a" stroke="#2a2a2a" stroke-width="0.12">60</text>
</g>
<g transform="translate(349.2,176.4)">
<g clip-path="url(#cclip)"><path d="M1.5,27 C5,30 9,34 12,37 C14,33 16,29 18,27" fill="none" stroke="#a8a8a8" stroke-width="0.45"/><path d="M2,40 C5,38 8,36 10,37" fill="none" stroke="#a8a8a8" stroke-width="0.45"/><path d="M3,52 C7,47 11,44 15,41 C16.5,40 17.5,39 18,39" fill="none" stroke="#a8a8a8" stroke-width="0.45"/><path d="M6,58 C9,53 13,50 18,47" fill="none" stroke="#a8a8a8" stroke-width="0.45"/><path d="M1.5,33 C4,35 6,38 7,42" fill="none" stroke="#a8a8a8" stroke-width="0.45"/><path d="M18.00,60.00 C14.53,55.67 17.98,40.30 18.00,34.00 C18.02,27.70 17.68,24.53 18.10,22.20 C18.52,19.87 19.52,20.43 20.50,20.00 C21.48,19.57 22.62,19.75 24.00,19.60 C25.38,19.45 27.22,19.43 28.80,19.10 C30.38,18.77 32.08,17.98 33.50,17.60 C34.92,17.22 36.40,16.65 37.30,16.80 C38.20,16.95 38.57,16.63 38.90,18.50 C39.23,20.37 39.25,23.58 39.30,28.00 C39.35,32.42 39.28,39.67 39.20,45.00 C39.12,50.33 42.33,57.50 38.80,60.00 C35.27,62.50 21.47,64.33 18.00,60.00 Z" fill="#000" fill-opacity="0.06" stroke="#777" stroke-width="0.4" /><path d="M20.59,60.00 C17.60,56.09 20.58,42.39 20.59,36.56 C20.60,30.73 20.30,27.54 20.64,25.05 C20.99,22.55 21.83,22.34 22.66,21.60 C23.49,20.86 24.46,20.91 25.65,20.62 C26.84,20.34 28.42,20.23 29.79,19.88 C31.17,19.54 32.66,18.87 33.90,18.54 C35.14,18.22 36.46,17.76 37.25,17.95 C38.05,18.14 38.38,17.92 38.68,19.70 C38.97,21.48 39.00,24.42 39.04,28.64 C39.09,32.86 39.02,39.77 38.94,45.00 C38.86,50.23 41.62,57.50 38.56,60.00 C35.50,62.50 23.59,63.91 20.59,60.00 Z" fill="#000" fill-opacity="0.085" stroke="#777" stroke-width="0.4" /><path d="M23.18,60.00 C20.66,56.52 23.18,44.47 23.18,39.12 C23.18,33.77 22.92,30.55 23.19,27.90 C23.46,25.24 24.14,24.24 24.82,23.20 C25.50,22.16 26.30,22.07 27.30,21.65 C28.29,21.23 29.62,21.03 30.78,20.67 C31.95,20.31 33.23,19.75 34.30,19.49 C35.37,19.23 36.51,18.87 37.20,19.10 C37.90,19.34 38.19,19.20 38.45,20.90 C38.72,22.60 38.75,25.26 38.79,29.28 C38.83,33.30 38.77,39.88 38.69,45.00 C38.61,50.12 40.90,57.50 38.32,60.00 C35.74,62.50 25.71,63.48 23.18,60.00 Z" fill="#000" fill-opacity="0.11" stroke="#777" stroke-width="0.4" /><path d="M25.78,60.00 C23.73,56.95 25.78,46.56 25.78,41.68 C25.77,36.80 25.53,33.56 25.73,30.74 C25.93,27.93 26.44,26.15 26.98,24.80 C27.52,23.45 28.14,23.23 28.94,22.67 C29.74,22.11 30.82,21.83 31.78,21.45 C32.74,21.08 33.80,20.63 34.70,20.43 C35.60,20.23 36.57,19.98 37.16,20.26 C37.74,20.53 38.00,20.49 38.23,22.10 C38.46,23.71 38.50,26.10 38.53,29.92 C38.57,33.74 38.51,39.99 38.43,45.00 C38.36,50.01 40.19,57.50 38.08,60.00 C35.97,62.50 27.83,63.05 25.78,60.00 Z" fill="#000" fill-opacity="0.15" stroke="#777" stroke-width="0.4" /><path d="M28.04,60.00 C26.41,57.32 28.06,48.38 28.04,43.92 C28.03,39.46 27.82,36.19 27.96,33.24 C28.10,30.28 28.47,27.81 28.87,26.20 C29.27,24.59 29.76,24.25 30.39,23.57 C31.02,22.89 31.87,22.52 32.64,22.14 C33.42,21.75 34.30,21.40 35.05,21.26 C35.79,21.11 36.62,20.95 37.11,21.26 C37.61,21.58 37.83,21.61 38.03,23.15 C38.23,24.69 38.28,26.84 38.31,30.48 C38.34,34.12 38.28,40.08 38.21,45.00 C38.13,49.92 39.56,57.50 37.87,60.00 C36.18,62.50 29.68,62.68 28.04,60.00 Z" fill="#000" fill-opacity="0.2" stroke="#777" stroke-width="0.4" /><path d="M30.31,60.00 C29.09,57.69 30.33,50.21 30.31,46.16 C30.29,42.11 30.11,38.82 30.18,35.73 C30.26,32.63 30.49,29.48 30.76,27.60 C31.03,25.72 31.37,25.26 31.83,24.46 C32.29,23.67 32.92,23.22 33.51,22.82 C34.11,22.43 34.81,22.18 35.40,22.08 C35.99,21.99 36.67,21.92 37.07,22.27 C37.48,22.62 37.67,22.74 37.84,24.20 C38.00,25.66 38.06,27.57 38.08,31.04 C38.11,34.51 38.05,40.17 37.98,45.00 C37.91,49.83 38.94,57.50 37.66,60.00 C36.38,62.50 31.54,62.31 30.31,60.00 Z" fill="#000" fill-opacity="0.25" stroke="#777" stroke-width="0.4" /><path d="M32.26,60.00 C31.39,58.01 32.28,51.77 32.26,48.08 C32.23,44.39 32.07,41.08 32.09,37.86 C32.11,34.65 32.22,30.91 32.38,28.80 C32.54,26.69 32.75,26.13 33.06,25.23 C33.38,24.33 33.82,23.82 34.26,23.41 C34.70,23.01 35.24,22.84 35.70,22.79 C36.16,22.75 36.71,22.75 37.04,23.14 C37.36,23.52 37.53,23.70 37.67,25.10 C37.81,26.50 37.87,28.20 37.89,31.52 C37.91,34.84 37.86,40.25 37.79,45.00 C37.72,49.75 38.40,57.50 37.48,60.00 C36.56,62.50 33.13,61.99 32.26,60.00 Z" fill="#000" fill-opacity="0.3" stroke="#777" stroke-width="0.4" /><path d="M31.8,50 C31.5,40 32.5,30 34.3,23.5 C36.5,22.5 38.2,24.5 38.4,30 C38.5,40 38,48 36.3,52 Z" fill="#222" filter="url(#bl1)"/><ellipse cx="33.6" cy="34" rx="0.6" ry="5" fill="#d8d8d8" filter="url(#bl1)"/><ellipse cx="31.3" cy="57.3" rx="2.8" ry="1.0" fill="#111"/></g>
<rect x="1.2" y="25.8" width="53.2" height="32.1" fill="none" stroke="#8a8a8a" stroke-width="0.8"/>
<line x1="18.2" y1="25.8" x2="18.2" y2="57.9" stroke="#6a6a6a" stroke-width="0.8"/>
<line x1="30.8" y1="25.8" x2="30.8" y2="57.9" stroke="#6a6a6a" stroke-width="0.8"/>
<text transform="translate(1.0,8.9) scale(1.07,1)" font-size="9.0" fill="#2a2a2a" stroke="#2a2a2a" stroke-width="0.12">3.2</text>
<text transform="translate(21.5,8.9) scale(1.07,1)" font-size="9.0" fill="#2a2a2a" stroke="#2a2a2a" stroke-width="0.12">40</text>
<text transform="translate(47.5,8.9) scale(1.07,1)" font-size="9.0" fill="#2a2a2a" stroke="#2a2a2a" stroke-width="0.12">44</text>
</g>
<g transform="translate(418.2,176.4)">
<g clip-path="url(#cclip)"><path d="M18.50,60.00 C14.68,57.83 19.43,49.25 18.60,47.00 C17.77,44.75 14.60,47.33 13.50,46.50 C12.40,45.67 12.00,43.50 12.00,42.00 C12.00,40.50 12.40,38.58 13.50,37.50 C14.60,36.42 17.70,37.75 18.60,35.50 C19.50,33.25 18.53,26.88 18.90,24.00 C19.27,21.12 19.78,19.50 20.80,18.20 C21.82,16.90 23.30,16.58 25.00,16.20 C26.70,15.82 29.08,15.83 31.00,15.90 C32.92,15.97 35.03,16.00 36.50,16.60 C37.97,17.20 39.00,17.93 39.80,19.50 C40.60,21.07 41.02,22.58 41.30,26.00 C41.58,29.42 41.47,34.33 41.50,40.00 C41.53,45.67 45.33,56.67 41.50,60.00 C37.67,63.33 22.32,62.17 18.50,60.00 Z" fill="#000" fill-opacity="0.06" stroke="#777" stroke-width="0.4" /><path d="M21.40,60.00 C18.09,57.97 22.18,50.01 21.48,47.80 C20.78,45.59 18.12,47.63 17.20,46.74 C16.27,45.85 15.94,43.93 15.94,42.48 C15.94,41.03 16.27,39.18 17.20,38.06 C18.12,36.94 20.72,37.87 21.48,35.74 C22.24,33.61 21.42,27.97 21.73,25.28 C22.05,22.59 22.50,20.89 23.38,19.61 C24.26,18.33 25.55,17.99 27.02,17.61 C28.49,17.22 30.54,17.23 32.20,17.29 C33.86,17.35 35.68,17.41 36.95,17.98 C38.21,18.54 39.11,19.20 39.80,20.70 C40.49,22.20 40.86,23.61 41.11,26.96 C41.36,30.31 41.27,35.29 41.31,40.80 C41.34,46.31 44.63,56.80 41.31,60.00 C37.99,63.20 24.70,62.03 21.40,60.00 Z" fill="#000" fill-opacity="0.085" stroke="#777" stroke-width="0.4" /><path d="M24.29,60.00 C21.50,58.10 24.93,50.77 24.36,48.60 C23.79,46.43 21.64,47.92 20.89,46.98 C20.14,46.04 19.87,44.35 19.87,42.96 C19.87,41.57 20.14,39.78 20.89,38.62 C21.64,37.46 23.75,37.99 24.36,35.98 C24.97,33.97 24.30,29.05 24.56,26.56 C24.83,24.07 25.21,22.27 25.95,21.02 C26.70,19.76 27.79,19.40 29.03,19.02 C30.27,18.63 32.01,18.63 33.40,18.68 C34.79,18.74 36.33,18.82 37.40,19.35 C38.46,19.89 39.21,20.47 39.80,21.90 C40.39,23.33 40.70,24.64 40.92,27.92 C41.14,31.20 41.08,36.25 41.12,41.60 C41.15,46.95 43.92,56.93 41.12,60.00 C38.31,63.07 27.08,61.90 24.29,60.00 Z" fill="#000" fill-opacity="0.11" stroke="#777" stroke-width="0.4" /><path d="M27.19,60.00 C24.91,58.23 27.67,51.53 27.24,49.40 C26.81,47.27 25.16,48.21 24.59,47.22 C24.02,46.23 23.81,44.78 23.81,43.44 C23.81,42.10 24.02,40.38 24.59,39.18 C25.16,37.98 26.77,38.11 27.24,36.22 C27.71,34.33 27.18,30.14 27.40,27.84 C27.61,25.54 27.92,23.66 28.53,22.42 C29.14,21.19 30.04,20.82 31.05,20.42 C32.06,20.03 33.47,20.03 34.60,20.08 C35.73,20.13 36.98,20.22 37.84,20.73 C38.71,21.23 39.32,21.74 39.80,23.10 C40.28,24.46 40.54,25.66 40.72,28.88 C40.91,32.10 40.89,37.21 40.92,42.40 C40.96,47.59 43.21,57.07 40.92,60.00 C38.63,62.93 29.47,61.77 27.19,60.00 Z" fill="#000" fill-opacity="0.15" stroke="#777" stroke-width="0.4" /><path d="M29.72,60.00 C27.89,58.35 30.08,52.20 29.76,50.10 C29.44,48.01 28.24,48.47 27.82,47.43 C27.40,46.39 27.25,45.15 27.25,43.86 C27.25,42.57 27.40,40.91 27.82,39.67 C28.24,38.43 29.42,38.22 29.76,36.43 C30.10,34.64 29.70,31.09 29.87,28.96 C30.04,26.83 30.29,24.87 30.78,23.66 C31.27,22.44 32.00,22.05 32.81,21.66 C33.62,21.26 34.75,21.25 35.65,21.29 C36.55,21.34 37.54,21.46 38.24,21.93 C38.93,22.41 39.41,22.85 39.80,24.15 C40.19,25.45 40.40,26.56 40.56,29.72 C40.72,32.88 40.72,38.05 40.76,43.10 C40.79,48.15 42.59,57.18 40.76,60.00 C38.92,62.82 31.55,61.65 29.72,60.00 Z" fill="#000" fill-opacity="0.2" stroke="#777" stroke-width="0.4" /><path d="M32.26,60.00 C30.87,58.47 32.48,52.86 32.28,50.80 C32.08,48.74 31.32,48.73 31.06,47.64 C30.79,46.55 30.70,45.53 30.70,44.28 C30.70,43.03 30.79,41.43 31.06,40.16 C31.32,38.89 32.06,38.32 32.28,36.64 C32.50,34.96 32.23,32.04 32.35,30.08 C32.48,28.12 32.67,26.09 33.04,24.89 C33.41,23.69 33.97,23.28 34.58,22.89 C35.19,22.49 36.02,22.47 36.70,22.51 C37.38,22.55 38.11,22.69 38.63,23.14 C39.14,23.58 39.51,23.96 39.80,25.20 C40.09,26.44 40.26,27.46 40.39,30.56 C40.52,33.66 40.55,38.89 40.59,43.80 C40.62,48.71 41.98,57.30 40.59,60.00 C39.20,62.70 33.64,61.53 32.26,60.00 Z" fill="#000" fill-opacity="0.25" stroke="#777" stroke-width="0.4" /><path d="M34.43,60.00 C33.43,58.57 34.54,53.43 34.44,51.40 C34.34,49.37 33.96,48.95 33.83,47.82 C33.70,46.69 33.65,45.85 33.65,44.64 C33.65,43.43 33.70,41.88 33.83,40.58 C33.96,39.28 34.33,38.41 34.44,36.82 C34.55,35.23 34.39,32.85 34.48,31.04 C34.56,29.23 34.70,27.13 34.97,25.94 C35.24,24.76 35.65,24.34 36.09,23.94 C36.53,23.55 37.12,23.52 37.60,23.56 C38.08,23.59 38.60,23.74 38.96,24.17 C39.33,24.59 39.59,24.91 39.80,26.10 C40.01,27.29 40.14,28.23 40.24,31.28 C40.35,34.33 40.41,39.61 40.44,44.40 C40.48,49.19 41.45,57.40 40.44,60.00 C39.44,62.60 35.43,61.43 34.43,60.00 Z" fill="#000" fill-opacity="0.3" stroke="#777" stroke-width="0.4" /><rect x="38.2" y="25" width="2.4" height="30" fill="#1e1e1e" filter="url(#bl1)"/><rect x="30.6" y="27" width="1.2" height="27" fill="#555" filter="url(#bl1)"/><ellipse cx="34.8" cy="57.3" rx="2.4" ry="1.0" fill="#1a1a1a"/></g>
<rect x="1.2" y="26.2" width="49.1" height="31.7" fill="none" stroke="#8a8a8a" stroke-width="0.8"/>
<line x1="18.4" y1="26.2" x2="18.4" y2="57.9" stroke="#6a6a6a" stroke-width="0.8"/>
<line x1="31.3" y1="26.2" x2="31.3" y2="57.9" stroke="#6a6a6a" stroke-width="0.8"/>
<text transform="translate(1.5,8.9) scale(1.07,1)" font-size="9.0" fill="#2a2a2a" stroke="#2a2a2a" stroke-width="0.12">3.8</text>
<text transform="translate(19.5,8.9) scale(1.07,1)" font-size="9.0" fill="#2a2a2a" stroke="#2a2a2a" stroke-width="0.12">26</text>
<text transform="translate(47.4,8.9) scale(1.07,1)" font-size="9.0" fill="#2a2a2a" stroke="#2a2a2a" stroke-width="0.12">60</text>
</g>
<g transform="translate(279.3,240.2)">
<g clip-path="url(#cclip)"><path d="M1.5,58 C1.5,52 4,47 8,45 C12,43.5 15.5,44.5 17,47 C18,50 18,54 18.4,58 Z" fill="#f6f6f6" stroke="#8a8a8a" stroke-width="0.45"/><path d="M4,56 C6,51 10,49 14,51 C15.5,53 15,55 14,57 M7,57 C8.5,54 11,53 12.5,55.5" fill="none" stroke="#999" stroke-width="0.45"/><ellipse cx="12.5" cy="41.5" rx="8.5" ry="9.5" fill="#7a7a7a" opacity="0.4" filter="url(#bl2)"/><path d="M6.00,50.00 C4.42,48.17 4.58,46.17 4.50,44.00 C4.42,41.83 4.83,39.08 5.50,37.00 C6.17,34.92 7.25,33.00 8.50,31.50 C9.75,30.00 11.33,28.75 13.00,28.00 C14.67,27.25 16.67,27.00 18.50,27.00 C20.33,27.00 22.42,27.42 24.00,28.00 C25.58,28.58 26.42,29.92 28.00,30.50 C29.58,31.08 32.42,30.92 33.50,31.50 C34.58,32.08 34.83,32.92 34.50,34.00 C34.17,35.08 31.92,36.33 31.50,38.00 C31.08,39.67 32.33,42.00 32.00,44.00 C31.67,46.00 30.83,48.25 29.50,50.00 C28.17,51.75 26.58,53.67 24.00,54.50 C21.42,55.33 17.00,55.75 14.00,55.00 C11.00,54.25 7.58,51.83 6.00,50.00 Z" fill="#000" fill-opacity="0.06" stroke="#777" stroke-width="0.4" /><path d="M8.24,49.20 C6.86,47.59 6.90,45.85 6.79,43.92 C6.68,41.99 7.01,39.52 7.58,37.64 C8.15,35.76 9.09,33.99 10.18,32.62 C11.27,31.25 12.65,30.13 14.12,29.44 C15.59,28.75 17.36,28.50 18.98,28.49 C20.60,28.47 22.44,28.84 23.84,29.36 C25.24,29.88 26.01,31.06 27.39,31.62 C28.78,32.18 31.20,32.12 32.14,32.70 C33.08,33.28 33.31,34.10 33.03,35.12 C32.75,36.14 30.84,37.30 30.46,38.80 C30.08,40.30 31.10,42.37 30.77,44.13 C30.43,45.89 29.65,47.85 28.46,49.36 C27.27,50.87 25.88,52.50 23.65,53.20 C21.42,53.90 17.66,54.23 15.09,53.56 C12.52,52.89 9.62,50.81 8.24,49.20 Z" fill="#000" fill-opacity="0.085" stroke="#777" stroke-width="0.4" /><path d="M10.48,48.40 C9.30,47.02 9.21,45.53 9.08,43.84 C8.94,42.15 9.20,39.96 9.66,38.28 C10.12,36.60 10.93,34.97 11.86,33.74 C12.79,32.51 13.97,31.51 15.24,30.88 C16.51,30.25 18.05,30.00 19.46,29.98 C20.87,29.95 22.46,30.26 23.68,30.72 C24.90,31.18 25.60,32.21 26.78,32.74 C27.97,33.27 29.98,33.32 30.78,33.90 C31.58,34.48 31.78,35.29 31.56,36.24 C31.33,37.19 29.76,38.26 29.42,39.60 C29.08,40.94 29.87,42.74 29.54,44.26 C29.20,45.78 28.46,47.44 27.42,48.72 C26.38,50.00 25.17,51.34 23.30,51.91 C21.42,52.47 18.31,52.70 16.18,52.12 C14.04,51.54 11.66,49.78 10.48,48.40 Z" fill="#000" fill-opacity="0.11" stroke="#777" stroke-width="0.4" /><path d="M12.72,47.60 C11.74,46.45 11.53,45.21 11.36,43.76 C11.20,42.31 11.38,40.40 11.74,38.92 C12.10,37.44 12.77,35.96 13.54,34.86 C14.31,33.76 15.29,32.89 16.36,32.32 C17.43,31.75 18.75,31.50 19.94,31.46 C21.13,31.42 22.48,31.68 23.52,32.08 C24.56,32.48 25.19,33.36 26.18,33.86 C27.16,34.36 28.77,34.52 29.42,35.10 C30.07,35.68 30.26,36.48 30.08,37.36 C29.91,38.24 28.68,39.23 28.38,40.40 C28.08,41.57 28.64,43.10 28.30,44.38 C27.97,45.66 27.27,47.04 26.38,48.08 C25.49,49.12 24.46,50.18 22.94,50.61 C21.42,51.05 18.97,51.18 17.26,50.68 C15.56,50.18 13.70,48.75 12.72,47.60 Z" fill="#000" fill-opacity="0.15" stroke="#777" stroke-width="0.4" /><path d="M14.68,46.90 C13.87,45.95 13.55,44.93 13.37,43.69 C13.18,42.45 13.29,40.79 13.56,39.48 C13.83,38.17 14.38,36.82 15.01,35.84 C15.64,34.86 16.45,34.09 17.34,33.58 C18.23,33.07 19.35,32.82 20.36,32.77 C21.37,32.71 22.50,32.92 23.38,33.27 C24.26,33.62 24.84,34.36 25.64,34.84 C26.45,35.32 27.70,35.57 28.23,36.15 C28.76,36.73 28.92,37.52 28.80,38.34 C28.67,39.17 27.73,40.07 27.47,41.10 C27.21,42.13 27.56,43.43 27.23,44.50 C26.89,45.57 26.23,46.69 25.47,47.52 C24.70,48.35 23.84,49.16 22.64,49.48 C21.43,49.79 19.54,49.85 18.22,49.42 C16.89,48.99 15.49,47.85 14.68,46.90 Z" fill="#000" fill-opacity="0.2" stroke="#777" stroke-width="0.4" /><path d="M16.64,46.20 C16.01,45.44 15.58,44.65 15.37,43.62 C15.16,42.59 15.19,41.17 15.38,40.04 C15.57,38.91 15.99,37.69 16.48,36.82 C16.97,35.95 17.60,35.30 18.32,34.84 C19.04,34.38 19.96,34.13 20.78,34.07 C21.60,34.00 22.52,34.17 23.24,34.46 C23.96,34.75 24.48,35.36 25.11,35.82 C25.75,36.28 26.64,36.62 27.04,37.20 C27.44,37.78 27.59,38.55 27.51,39.32 C27.43,40.09 26.79,40.92 26.56,41.80 C26.33,42.68 26.48,43.75 26.15,44.61 C25.81,45.47 25.20,46.34 24.56,46.96 C23.92,47.58 23.23,48.14 22.33,48.34 C21.43,48.54 20.12,48.52 19.17,48.16 C18.22,47.80 17.27,46.96 16.64,46.20 Z" fill="#000" fill-opacity="0.25" stroke="#777" stroke-width="0.4" /><path d="M18.32,45.60 C17.84,45.01 17.31,44.41 17.08,43.56 C16.85,42.71 16.83,41.50 16.94,40.52 C17.05,39.54 17.37,38.43 17.74,37.66 C18.11,36.89 18.59,36.33 19.16,35.92 C19.73,35.51 20.48,35.26 21.14,35.18 C21.80,35.11 22.53,35.23 23.12,35.48 C23.71,35.73 24.17,36.22 24.66,36.66 C25.14,37.10 25.73,37.52 26.02,38.10 C26.31,38.68 26.44,39.44 26.40,40.16 C26.36,40.88 25.98,41.64 25.78,42.40 C25.58,43.16 25.56,44.02 25.22,44.70 C24.89,45.38 24.31,46.04 23.78,46.48 C23.25,46.92 22.70,47.27 22.06,47.37 C21.43,47.47 20.61,47.38 19.98,47.08 C19.36,46.78 18.80,46.19 18.32,45.60 Z" fill="#000" fill-opacity="0.3" stroke="#777" stroke-width="0.4" /><ellipse cx="21.3" cy="41.2" rx="4.6" ry="6.2" fill="#7a7a7a" fill-opacity="0.35" stroke="#444" stroke-opacity="0.8" stroke-width="1.5" filter="url(#bl1)"/><ellipse cx="21.3" cy="41.2" rx="4.6" ry="6.2" fill="none" stroke="#262626" stroke-width="1.8" stroke-dasharray="14.9 60" stroke-dashoffset="6.8" filter="url(#bl1)"/><ellipse cx="20.900000000000002" cy="41.0" rx="1.5" ry="1.4" fill="#e4e4e4" filter="url(#bl1)"/><rect x="1" y="54.5" width="2.6" height="3.4" fill="#2a2a2a" filter="url(#bl1)"/><path d="M1.5,36.5 L9.5,36.5 M1.5,40 C2.5,44 2.5,48 1.5,50" fill="none" stroke="#888" stroke-width="0.45"/><path d="M2,40 C3,45 3,50 2,54" fill="none" stroke="#555" stroke-width="1.2" filter="url(#bl1)" opacity="0.6"/></g>
<rect x="1.2" y="26.4" width="49.1" height="31.5" fill="none" stroke="#8a8a8a" stroke-width="0.8"/>
<line x1="18.4" y1="26.4" x2="18.4" y2="57.9" stroke="#6a6a6a" stroke-width="0.8"/>
<line x1="30.6" y1="26.4" x2="30.6" y2="57.9" stroke="#6a6a6a" stroke-width="0.8"/>
<text transform="translate(0.9,9.1) scale(1.07,1)" font-size="9.0" fill="#2a2a2a" stroke="#2a2a2a" stroke-width="0.12">40</text>
<text transform="translate(19.3,9.1) scale(1.07,1)" font-size="9.0" fill="#2a2a2a" stroke="#2a2a2a" stroke-width="0.12">53</text>
<text transform="translate(44.5,9.1) scale(1.07,1)" font-size="9.0" fill="#2a2a2a" stroke="#2a2a2a" stroke-width="0.12">2.2</text>
</g>
<g transform="translate(349.2,240.2)">
<g clip-path="url(#cclip)"><path d="M3,58 C3,52 5,47 9,46 C13,45 17,48 20,50 C24,50 28,52 29,58 Z" fill="#f6f6f6" stroke="#999" stroke-width="0.45"/><path d="M6,53 C9,50 14,51 18,54 M8,57 C12,54 18,55 22,57" fill="none" stroke="#9a9a9a" stroke-width="0.45"/><ellipse cx="11.5" cy="33.5" rx="7" ry="8.5" fill="#7a7a7a" opacity="0.4" filter="url(#bl2)"/><path d="M5.00,44.00 C3.75,42.50 3.67,40.17 3.50,38.00 C3.33,35.83 3.50,32.92 4.00,31.00 C4.50,29.08 5.42,27.58 6.50,26.50 C7.58,25.42 9.08,25.58 10.50,24.50 C11.92,23.42 13.58,20.17 15.00,20.00 C16.42,19.83 17.58,23.10 19.00,23.50 C20.42,23.90 22.00,22.15 23.50,22.40 C25.00,22.65 26.75,23.82 28.00,25.00 C29.25,26.18 30.33,27.83 31.00,29.50 C31.67,31.17 32.00,33.08 32.00,35.00 C32.00,36.92 31.67,39.25 31.00,41.00 C30.33,42.75 29.67,44.42 28.00,45.50 C26.33,46.58 23.83,47.25 21.00,47.50 C18.17,47.75 13.67,47.58 11.00,47.00 C8.33,46.42 6.25,45.50 5.00,44.00 Z" fill="#000" fill-opacity="0.06" stroke="#777" stroke-width="0.4" /><path d="M7.16,43.12 C6.06,41.79 5.92,39.69 5.76,37.76 C5.59,35.83 5.73,33.28 6.16,31.56 C6.59,29.84 7.38,28.46 8.34,27.46 C9.30,26.46 10.63,26.53 11.89,25.57 C13.16,24.61 14.66,21.86 15.93,21.71 C17.20,21.57 18.26,24.33 19.53,24.70 C20.79,25.07 22.20,23.66 23.52,23.94 C24.83,24.21 26.34,25.28 27.42,26.36 C28.50,27.44 29.43,28.92 29.99,30.41 C30.55,31.91 30.80,33.62 30.77,35.32 C30.73,37.02 30.41,39.07 29.78,40.60 C29.16,42.13 28.51,43.57 27.04,44.51 C25.57,45.44 23.39,46.01 20.94,46.22 C18.49,46.43 14.64,46.27 12.34,45.75 C10.05,45.24 8.26,44.45 7.16,43.12 Z" fill="#000" fill-opacity="0.085" stroke="#777" stroke-width="0.4" /><path d="M9.32,42.24 C8.37,41.08 8.18,39.21 8.01,37.52 C7.85,35.83 7.96,33.64 8.32,32.12 C8.68,30.60 9.35,29.33 10.18,28.42 C11.01,27.51 12.17,27.48 13.28,26.64 C14.40,25.81 15.73,23.55 16.86,23.42 C17.98,23.30 18.94,25.56 20.06,25.90 C21.17,26.24 22.40,25.17 23.53,25.47 C24.66,25.78 25.94,26.74 26.85,27.72 C27.76,28.70 28.54,30.00 28.98,31.32 C29.43,32.64 29.61,34.16 29.54,35.64 C29.47,37.12 29.14,38.89 28.57,40.20 C27.99,41.51 27.36,42.73 26.08,43.52 C24.80,44.31 22.94,44.78 20.87,44.94 C18.81,45.10 15.61,44.95 13.69,44.50 C11.76,44.05 10.27,43.40 9.32,42.24 Z" fill="#000" fill-opacity="0.11" stroke="#777" stroke-width="0.4" /><path d="M11.48,41.36 C10.69,40.36 10.43,38.73 10.27,37.28 C10.10,35.83 10.19,34.00 10.48,32.68 C10.77,31.36 11.32,30.21 12.02,29.38 C12.72,28.55 13.72,28.42 14.68,27.72 C15.64,27.01 16.80,25.24 17.78,25.14 C18.77,25.03 19.62,26.79 20.58,27.10 C21.54,27.41 22.60,26.68 23.55,27.01 C24.50,27.34 25.53,28.21 26.27,29.08 C27.01,29.95 27.64,31.09 27.98,32.24 C28.31,33.38 28.41,34.70 28.30,35.96 C28.20,37.22 27.88,38.71 27.35,39.80 C26.82,40.89 26.21,41.88 25.12,42.52 C24.03,43.17 22.49,43.54 20.81,43.66 C19.13,43.78 16.59,43.64 15.03,43.26 C13.48,42.87 12.27,42.36 11.48,41.36 Z" fill="#000" fill-opacity="0.15" stroke="#777" stroke-width="0.4" /><path d="M13.37,40.59 C12.71,39.74 12.41,38.31 12.24,37.07 C12.08,35.83 12.14,34.31 12.37,33.17 C12.60,32.03 13.04,30.97 13.63,30.22 C14.22,29.47 15.07,29.25 15.89,28.65 C16.72,28.06 17.74,26.72 18.60,26.63 C19.45,26.55 20.22,27.86 21.05,28.15 C21.87,28.44 22.78,28.00 23.56,28.35 C24.35,28.71 25.18,29.49 25.77,30.27 C26.36,31.05 26.85,32.04 27.09,33.03 C27.34,34.03 27.36,35.17 27.23,36.24 C27.09,37.31 26.78,38.55 26.29,39.45 C25.80,40.35 25.20,41.14 24.28,41.66 C23.36,42.17 22.10,42.46 20.75,42.54 C19.41,42.62 17.44,42.49 16.21,42.16 C14.98,41.84 14.03,41.44 13.37,40.59 Z" fill="#000" fill-opacity="0.2" stroke="#777" stroke-width="0.4" /><path d="M15.26,39.82 C14.73,39.12 14.38,37.89 14.22,36.86 C14.05,35.83 14.09,34.63 14.26,33.66 C14.43,32.69 14.76,31.74 15.24,31.06 C15.72,30.38 16.42,30.08 17.11,29.59 C17.81,29.10 18.68,28.20 19.41,28.13 C20.14,28.07 20.81,28.94 21.51,29.20 C22.20,29.46 22.95,29.32 23.58,29.70 C24.20,30.07 24.82,30.77 25.26,31.46 C25.70,32.15 26.06,32.99 26.21,33.83 C26.36,34.68 26.31,35.64 26.15,36.52 C25.98,37.40 25.68,38.39 25.22,39.10 C24.77,39.81 24.19,40.40 23.44,40.79 C22.69,41.17 21.71,41.37 20.70,41.42 C19.69,41.47 18.29,41.34 17.38,41.07 C16.48,40.81 15.79,40.52 15.26,39.82 Z" fill="#000" fill-opacity="0.25" stroke="#777" stroke-width="0.4" /><path d="M16.88,39.16 C16.47,38.58 16.07,37.53 15.91,36.68 C15.74,35.83 15.76,34.90 15.88,34.08 C16.00,33.26 16.24,32.39 16.62,31.78 C17.00,31.17 17.58,30.79 18.16,30.40 C18.74,30.00 19.48,29.47 20.10,29.42 C20.73,29.37 21.32,29.86 21.90,30.10 C22.48,30.34 23.10,30.45 23.59,30.85 C24.08,31.24 24.52,31.87 24.83,32.48 C25.14,33.09 25.39,33.80 25.46,34.52 C25.52,35.23 25.41,36.05 25.22,36.76 C25.03,37.47 24.73,38.25 24.31,38.80 C23.89,39.35 23.33,39.77 22.72,40.04 C22.11,40.32 21.37,40.44 20.65,40.46 C19.93,40.48 19.02,40.35 18.39,40.14 C17.76,39.92 17.29,39.74 16.88,39.16 Z" fill="#000" fill-opacity="0.3" stroke="#777" stroke-width="0.4" /><ellipse cx="21.3" cy="35.0" rx="6.3" ry="7.0" fill="#7a7a7a" fill-opacity="0.35" stroke="#444" stroke-opacity="0.8" stroke-width="1.5" filter="url(#bl1)"/><ellipse cx="21.3" cy="35.0" rx="6.3" ry="7.0" fill="none" stroke="#262626" stroke-width="1.8" stroke-dasharray="16.8 60" stroke-dashoffset="7.7" filter="url(#bl1)"/><ellipse cx="20.900000000000002" cy="34.8" rx="1.5" ry="1.4" fill="#e4e4e4" filter="url(#bl1)"/><path d="M0.4,17.5 C2.2,20.5 3.6,24.5 3.6,31.25 C3.6,39 2.8,43 0.4,45 Z" fill="#151515" filter="url(#bl1)"/></g>
<rect x="1.2" y="26.0" width="53.2" height="31.9" fill="none" stroke="#8a8a8a" stroke-width="0.8"/>
<line x1="18.5" y1="26.0" x2="18.5" y2="57.9" stroke="#6a6a6a" stroke-width="0.8"/>
<line x1="31.1" y1="26.0" x2="31.1" y2="57.9" stroke="#6a6a6a" stroke-width="0.8"/>
<text transform="translate(1.0,8.5) scale(1.07,1)" font-size="9.0" fill="#2a2a2a" stroke="#2a2a2a" stroke-width="0.12">41</text>
<text transform="translate(21.5,8.5) scale(1.07,1)" font-size="9.0" fill="#2a2a2a" stroke="#2a2a2a" stroke-width="0.12">39</text>
<text transform="translate(38.8,8.5) scale(1.07,1)" font-size="9.0" fill="#2a2a2a" stroke="#2a2a2a" stroke-width="0.12">0.22</text>
</g>
<g transform="translate(418.2,240.2)">
<g clip-path="url(#cclip)"><path d="M1.5,58 C1.5,52 4,47 8,45 C12,43.5 15.5,44.5 17,47 C18,50 18,54 18.4,58 Z" fill="#f6f6f6" stroke="#8a8a8a" stroke-width="0.45"/><path d="M4,56 C6,51 10,49 14,51 C15.5,53 15,55 14,57 M7,57 C8.5,54 11,53 12.5,55.5" fill="none" stroke="#999" stroke-width="0.45"/><ellipse cx="12.5" cy="41.5" rx="8.5" ry="9.5" fill="#7a7a7a" opacity="0.4" filter="url(#bl2)"/><path d="M6.00,50.00 C4.42,48.17 4.58,46.17 4.50,44.00 C4.42,41.83 4.83,39.08 5.50,37.00 C6.17,34.92 7.25,33.00 8.50,31.50 C9.75,30.00 11.33,28.75 13.00,28.00 C14.67,27.25 16.67,27.00 18.50,27.00 C20.33,27.00 22.42,27.42 24.00,28.00 C25.58,28.58 26.42,29.92 28.00,30.50 C29.58,31.08 32.42,30.92 33.50,31.50 C34.58,32.08 34.83,32.92 34.50,34.00 C34.17,35.08 31.92,36.33 31.50,38.00 C31.08,39.67 32.33,42.00 32.00,44.00 C31.67,46.00 30.83,48.25 29.50,50.00 C28.17,51.75 26.58,53.67 24.00,54.50 C21.42,55.33 17.00,55.75 14.00,55.00 C11.00,54.25 7.58,51.83 6.00,50.00 Z" fill="#000" fill-opacity="0.06" stroke="#777" stroke-width="0.4" /><path d="M8.24,49.20 C6.86,47.59 6.90,45.85 6.79,43.92 C6.68,41.99 7.01,39.52 7.58,37.64 C8.15,35.76 9.09,33.99 10.18,32.62 C11.27,31.25 12.65,30.13 14.12,29.44 C15.59,28.75 17.36,28.50 18.98,28.49 C20.60,28.47 22.44,28.84 23.84,29.36 C25.24,29.88 26.01,31.06 27.39,31.62 C28.78,32.18 31.20,32.12 32.14,32.70 C33.08,33.28 33.31,34.10 33.03,35.12 C32.75,36.14 30.84,37.30 30.46,38.80 C30.08,40.30 31.10,42.37 30.77,44.13 C30.43,45.89 29.65,47.85 28.46,49.36 C27.27,50.87 25.88,52.50 23.65,53.20 C21.42,53.90 17.66,54.23 15.09,53.56 C12.52,52.89 9.62,50.81 8.24,49.20 Z" fill="#000" fill-opacity="0.085" stroke="#777" stroke-width="0.4" /><path d="M10.48,48.40 C9.30,47.02 9.21,45.53 9.08,43.84 C8.94,42.15 9.20,39.96 9.66,38.28 C10.12,36.60 10.93,34.97 11.86,33.74 C12.79,32.51 13.97,31.51 15.24,30.88 C16.51,30.25 18.05,30.00 19.46,29.98 C20.87,29.95 22.46,30.26 23.68,30.72 C24.90,31.18 25.60,32.21 26.78,32.74 C27.97,33.27 29.98,33.32 30.78,33.90 C31.58,34.48 31.78,35.29 31.56,36.24 C31.33,37.19 29.76,38.26 29.42,39.60 C29.08,40.94 29.87,42.74 29.54,44.26 C29.20,45.78 28.46,47.44 27.42,48.72 C26.38,50.00 25.17,51.34 23.30,51.91 C21.42,52.47 18.31,52.70 16.18,52.12 C14.04,51.54 11.66,49.78 10.48,48.40 Z" fill="#000" fill-opacity="0.11" stroke="#777" stroke-width="0.4" /><path d="M12.72,47.60 C11.74,46.45 11.53,45.21 11.36,43.76 C11.20,42.31 11.38,40.40 11.74,38.92 C12.10,37.44 12.77,35.96 13.54,34.86 C14.31,33.76 15.29,32.89 16.36,32.32 C17.43,31.75 18.75,31.50 19.94,31.46 C21.13,31.42 22.48,31.68 23.52,32.08 C24.56,32.48 25.19,33.36 26.18,33.86 C27.16,34.36 28.77,34.52 29.42,35.10 C30.07,35.68 30.26,36.48 30.08,37.36 C29.91,38.24 28.68,39.23 28.38,40.40 C28.08,41.57 28.64,43.10 28.30,44.38 C27.97,45.66 27.27,47.04 26.38,48.08 C25.49,49.12 24.46,50.18 22.94,50.61 C21.42,51.05 18.97,51.18 17.26,50.68 C15.56,50.18 13.70,48.75 12.72,47.60 Z" fill="#000" fill-opacity="0.15" stroke="#777" stroke-width="0.4" /><path d="M14.68,46.90 C13.87,45.95 13.55,44.93 13.37,43.69 C13.18,42.45 13.29,40.79 13.56,39.48 C13.83,38.17 14.38,36.82 15.01,35.84 C15.64,34.86 16.45,34.09 17.34,33.58 C18.23,33.07 19.35,32.82 20.36,32.77 C21.37,32.71 22.50,32.92 23.38,33.27 C24.26,33.62 24.84,34.36 25.64,34.84 C26.45,35.32 27.70,35.57 28.23,36.15 C28.76,36.73 28.92,37.52 28.80,38.34 C28.67,39.17 27.73,40.07 27.47,41.10 C27.21,42.13 27.56,43.43 27.23,44.50 C26.89,45.57 26.23,46.69 25.47,47.52 C24.70,48.35 23.84,49.16 22.64,49.48 C21.43,49.79 19.54,49.85 18.22,49.42 C16.89,48.99 15.49,47.85 14.68,46.90 Z" fill="#000" fill-opacity="0.2" stroke="#777" stroke-width="0.4" /><path d="M16.64,46.20 C16.01,45.44 15.58,44.65 15.37,43.62 C15.16,42.59 15.19,41.17 15.38,40.04 C15.57,38.91 15.99,37.69 16.48,36.82 C16.97,35.95 17.60,35.30 18.32,34.84 C19.04,34.38 19.96,34.13 20.78,34.07 C21.60,34.00 22.52,34.17 23.24,34.46 C23.96,34.75 24.48,35.36 25.11,35.82 C25.75,36.28 26.64,36.62 27.04,37.20 C27.44,37.78 27.59,38.55 27.51,39.32 C27.43,40.09 26.79,40.92 26.56,41.80 C26.33,42.68 26.48,43.75 26.15,44.61 C25.81,45.47 25.20,46.34 24.56,46.96 C23.92,47.58 23.23,48.14 22.33,48.34 C21.43,48.54 20.12,48.52 19.17,48.16 C18.22,47.80 17.27,46.96 16.64,46.20 Z" fill="#000" fill-opacity="0.25" stroke="#777" stroke-width="0.4" /><path d="M18.32,45.60 C17.84,45.01 17.31,44.41 17.08,43.56 C16.85,42.71 16.83,41.50 16.94,40.52 C17.05,39.54 17.37,38.43 17.74,37.66 C18.11,36.89 18.59,36.33 19.16,35.92 C19.73,35.51 20.48,35.26 21.14,35.18 C21.80,35.11 22.53,35.23 23.12,35.48 C23.71,35.73 24.17,36.22 24.66,36.66 C25.14,37.10 25.73,37.52 26.02,38.10 C26.31,38.68 26.44,39.44 26.40,40.16 C26.36,40.88 25.98,41.64 25.78,42.40 C25.58,43.16 25.56,44.02 25.22,44.70 C24.89,45.38 24.31,46.04 23.78,46.48 C23.25,46.92 22.70,47.27 22.06,47.37 C21.43,47.47 20.61,47.38 19.98,47.08 C19.36,46.78 18.80,46.19 18.32,45.60 Z" fill="#000" fill-opacity="0.3" stroke="#777" stroke-width="0.4" /><ellipse cx="21.3" cy="41.2" rx="4.6" ry="6.2" fill="#7a7a7a" fill-opacity="0.35" stroke="#444" stroke-opacity="0.8" stroke-width="1.5" filter="url(#bl1)"/><ellipse cx="21.3" cy="41.2" rx="4.6" ry="6.2" fill="none" stroke="#262626" stroke-width="1.8" stroke-dasharray="14.9 60" stroke-dashoffset="6.8" filter="url(#bl1)"/><ellipse cx="20.900000000000002" cy="41.0" rx="1.5" ry="1.4" fill="#e4e4e4" filter="url(#bl1)"/><rect x="1" y="54.5" width="2.6" height="3.4" fill="#2a2a2a" filter="url(#bl1)"/><path d="M1.5,36.5 L9.5,36.5 M1.5,40 C2.5,44 2.5,48 1.5,50" fill="none" stroke="#888" stroke-width="0.45"/><path d="M2,40 C3,45 3,50 2,54" fill="none" stroke="#555" stroke-width="1.2" filter="url(#bl1)" opacity="0.6"/></g>
<rect x="1.2" y="26.4" width="49.1" height="31.5" fill="none" stroke="#8a8a8a" stroke-width="0.8"/>
<line x1="18.4" y1="26.4" x2="18.4" y2="57.9" stroke="#6a6a6a" stroke-width="0.8"/>
<line x1="30.6" y1="26.4" x2="30.6" y2="57.9" stroke="#6a6a6a" stroke-width="0.8"/>
<text transform="translate(0.9,9.1) scale(1.07,1)" font-size="9.0" fill="#2a2a2a" stroke="#2a2a2a" stroke-width="0.12">40</text>
<text transform="translate(19.3,9.1) scale(1.07,1)" font-size="9.0" fill="#2a2a2a" stroke="#2a2a2a" stroke-width="0.12">53</text>
<text transform="translate(44.5,9.1) scale(1.07,1)" font-size="9.0" fill="#2a2a2a" stroke="#2a2a2a" stroke-width="0.12">2.2</text>
</g>
<g transform="translate(279.3,306.5)">
<g clip-path="url(#cclip)"><path d="M1.5,58 L1.5,36 C5,33 9,34 12,38 C15,43 17,50 18.4,58 Z" fill="#f4f4f4" stroke="#8a8a8a" stroke-width="0.45"/><path d="M3,48 C6,45 10,46 13,50 M4,53 C7,51 11,52 14,55 M3,42 C6,40 9,41 11,44" fill="none" stroke="#999" stroke-width="0.45"/><ellipse cx="12.5" cy="43" rx="9" ry="11" fill="#7a7a7a" opacity="0.38" filter="url(#bl2)"/><path d="M9.00,60.00 C8.17,58.50 8.08,54.50 8.00,52.00 C7.92,49.50 8.00,47.33 8.50,45.00 C9.00,42.67 9.92,40.17 11.00,38.00 C12.08,35.83 13.58,33.58 15.00,32.00 C16.42,30.42 18.00,29.08 19.50,28.50 C21.00,27.92 22.67,28.08 24.00,28.50 C25.33,28.92 26.58,29.75 27.50,31.00 C28.42,32.25 29.08,34.17 29.50,36.00 C29.92,37.83 29.95,40.00 30.00,42.00 C30.05,44.00 29.97,46.00 29.80,48.00 C29.63,50.00 29.30,52.00 29.00,54.00 C28.70,56.00 29.50,58.83 28.00,60.00 C26.50,61.17 22.50,60.83 20.00,61.00 C17.50,61.17 14.83,61.17 13.00,61.00 C11.17,60.83 9.83,61.50 9.00,60.00 Z" fill="#000" fill-opacity="0.06" stroke="#777" stroke-width="0.4" /><path d="M10.73,57.68 C9.97,56.35 9.82,52.90 9.71,50.69 C9.60,48.48 9.66,46.50 10.08,44.41 C10.51,42.31 11.30,40.06 12.25,38.13 C13.19,36.19 14.50,34.20 15.75,32.80 C17.00,31.40 18.41,30.24 19.74,29.73 C21.07,29.22 22.57,29.37 23.76,29.75 C24.95,30.12 26.08,30.88 26.91,31.99 C27.74,33.11 28.35,34.81 28.73,36.45 C29.11,38.09 29.16,40.04 29.20,41.84 C29.24,43.64 29.16,45.45 29.00,47.23 C28.84,49.02 28.53,50.80 28.23,52.56 C27.93,54.32 28.52,56.78 27.20,57.81 C25.88,58.83 22.45,58.57 20.29,58.71 C18.13,58.85 15.83,58.82 14.23,58.65 C12.64,58.48 11.48,59.01 10.73,57.68 Z" fill="#000" fill-opacity="0.085" stroke="#777" stroke-width="0.4" /><path d="M12.46,55.36 C11.78,54.21 11.56,51.30 11.42,49.38 C11.29,47.45 11.32,45.67 11.67,43.82 C12.01,41.96 12.69,39.96 13.50,38.26 C14.30,36.55 15.42,34.82 16.50,33.60 C17.58,32.38 18.81,31.40 19.98,30.96 C21.15,30.53 22.46,30.66 23.52,31.00 C24.58,31.33 25.58,32.00 26.32,32.98 C27.06,33.97 27.62,35.45 27.96,36.90 C28.31,38.35 28.36,40.09 28.40,41.68 C28.44,43.27 28.36,44.89 28.20,46.46 C28.04,48.04 27.76,49.59 27.46,51.12 C27.16,52.65 27.55,54.73 26.40,55.62 C25.25,56.50 22.40,56.31 20.58,56.42 C18.75,56.54 16.82,56.47 15.46,56.30 C14.11,56.12 13.13,56.51 12.46,55.36 Z" fill="#000" fill-opacity="0.11" stroke="#777" stroke-width="0.4" /><path d="M14.18,53.04 C13.59,52.06 13.29,49.70 13.14,48.06 C12.98,46.43 12.98,44.84 13.25,43.22 C13.52,41.61 14.08,39.85 14.74,38.38 C15.41,36.91 16.34,35.43 17.26,34.40 C18.17,33.37 19.22,32.56 20.22,32.20 C21.22,31.84 22.36,31.95 23.28,32.24 C24.20,32.54 25.07,33.13 25.72,33.98 C26.38,34.83 26.88,36.09 27.20,37.34 C27.51,38.60 27.57,40.13 27.60,41.52 C27.63,42.91 27.55,44.34 27.40,45.70 C27.25,47.06 27.00,48.39 26.70,49.68 C26.40,50.97 26.57,52.68 25.60,53.42 C24.63,54.17 22.35,54.05 20.86,54.14 C19.38,54.22 17.81,54.13 16.70,53.94 C15.58,53.76 14.78,54.02 14.18,53.04 Z" fill="#000" fill-opacity="0.15" stroke="#777" stroke-width="0.4" /><path d="M15.70,51.01 C15.17,50.18 14.81,48.30 14.63,46.92 C14.46,45.53 14.44,44.11 14.64,42.71 C14.84,41.30 15.29,39.76 15.84,38.50 C16.38,37.23 17.15,35.97 17.91,35.10 C18.68,34.23 19.57,33.57 20.43,33.27 C21.29,32.98 22.27,33.07 23.07,33.34 C23.87,33.60 24.63,34.11 25.21,34.84 C25.78,35.58 26.24,36.65 26.52,37.74 C26.81,38.83 26.87,40.17 26.90,41.38 C26.93,42.59 26.85,43.85 26.70,45.02 C26.55,46.20 26.32,47.34 26.02,48.42 C25.72,49.50 25.72,50.89 24.90,51.51 C24.08,52.12 22.30,52.07 21.12,52.13 C19.93,52.20 18.68,52.07 17.77,51.89 C16.87,51.70 16.22,51.84 15.70,51.01 Z" fill="#000" fill-opacity="0.2" stroke="#777" stroke-width="0.4" /><path d="M17.21,48.98 C16.75,48.30 16.33,46.90 16.13,45.77 C15.93,44.64 15.89,43.38 16.02,42.19 C16.16,40.99 16.50,39.67 16.93,38.61 C17.35,37.54 17.95,36.51 18.57,35.80 C19.19,35.09 19.93,34.58 20.64,34.35 C21.35,34.12 22.19,34.20 22.86,34.43 C23.53,34.65 24.19,35.10 24.69,35.71 C25.19,36.33 25.60,37.21 25.85,38.13 C26.10,39.05 26.18,40.20 26.20,41.24 C26.22,42.28 26.14,43.37 26.00,44.35 C25.86,45.34 25.65,46.29 25.35,47.16 C25.05,48.03 24.86,49.09 24.20,49.59 C23.54,50.08 22.26,50.09 21.37,50.13 C20.48,50.17 19.55,50.02 18.85,49.83 C18.16,49.64 17.66,49.66 17.21,48.98 Z" fill="#000" fill-opacity="0.25" stroke="#777" stroke-width="0.4" /><path d="M18.50,47.24 C18.11,46.69 17.63,45.70 17.42,44.78 C17.20,43.87 17.14,42.76 17.21,41.74 C17.29,40.73 17.54,39.59 17.86,38.70 C18.18,37.81 18.64,36.97 19.14,36.40 C19.63,35.83 20.23,35.45 20.82,35.28 C21.41,35.10 22.11,35.17 22.68,35.36 C23.25,35.56 23.81,35.94 24.24,36.46 C24.68,36.97 25.05,37.69 25.28,38.46 C25.50,39.24 25.58,40.23 25.60,41.12 C25.62,42.01 25.54,42.95 25.40,43.78 C25.26,44.60 25.08,45.39 24.78,46.08 C24.48,46.77 24.13,47.55 23.60,47.94 C23.07,48.33 22.22,48.40 21.58,48.42 C20.95,48.44 20.29,48.26 19.78,48.06 C19.26,47.87 18.90,47.79 18.50,47.24 Z" fill="#000" fill-opacity="0.3" stroke="#777" stroke-width="0.4" /><ellipse cx="21.6" cy="41.0" rx="4.4" ry="6.4" fill="#7a7a7a" fill-opacity="0.35" stroke="#444" stroke-opacity="0.8" stroke-width="1.5" filter="url(#bl1)"/><ellipse cx="21.6" cy="41.0" rx="4.4" ry="6.4" fill="none" stroke="#262626" stroke-width="1.8" stroke-dasharray="15.4 60" stroke-dashoffset="7.0" filter="url(#bl1)"/><ellipse cx="21.200000000000003" cy="40.8" rx="1.5" ry="1.4" fill="#e4e4e4" filter="url(#bl1)"/><rect x="1" y="54.5" width="2.6" height="3.4" fill="#2a2a2a" filter="url(#bl1)"/></g>
<rect x="1.2" y="26.1" width="49.4" height="31.8" fill="none" stroke="#8a8a8a" stroke-width="0.8"/>
<line x1="18.4" y1="26.1" x2="18.4" y2="57.9" stroke="#6a6a6a" stroke-width="0.8"/>
<line x1="30.9" y1="26.1" x2="30.9" y2="57.9" stroke="#6a6a6a" stroke-width="0.8"/>
<text transform="translate(0.9,9.8) scale(1.07,1)" font-size="9.0" fill="#2a2a2a" stroke="#2a2a2a" stroke-width="0.12">36</text>
<text transform="translate(19.2,9.8) scale(1.07,1)" font-size="9.0" fill="#2a2a2a" stroke="#2a2a2a" stroke-width="0.12">59</text>
<text transform="translate(45.5,9.8) scale(1.07,1)" font-size="9.0" fill="#2a2a2a" stroke="#2a2a2a" stroke-width="0.12">1.1</text>
</g>
<g transform="translate(349.2,306.5)">
<g clip-path="url(#cclip)"><path d="M3,58 L3,28 C8,26 14,27 18,29 L18.5,58 Z" fill="#f6f6f6" stroke="#999" stroke-width="0.45"/><path d="M4,33 C8,31 12,33 16,35 M4,40 C8,38 12,41 15,43 M4,47 C8,45 12,48 16,51 M5,53 C9,51 13,54 17,56" fill="none" stroke="#9a9a9a" stroke-width="0.45"/><ellipse cx="12" cy="41" rx="7" ry="12" fill="#7a7a7a" opacity="0.3" filter="url(#bl2)"/><path d="M12.00,60.00 C11.33,58.50 11.12,54.67 11.00,52.00 C10.88,49.33 11.00,46.50 11.30,44.00 C11.60,41.50 12.10,39.08 12.80,37.00 C13.50,34.92 14.38,32.92 15.50,31.50 C16.62,30.08 17.92,29.00 19.50,28.50 C21.08,28.00 23.42,28.08 25.00,28.50 C26.58,28.92 27.97,29.75 29.00,31.00 C30.03,32.25 30.77,34.17 31.20,36.00 C31.63,37.83 31.60,40.00 31.60,42.00 C31.60,44.00 31.47,46.00 31.20,48.00 C30.93,50.00 30.37,52.00 30.00,54.00 C29.63,56.00 30.50,58.83 29.00,60.00 C27.50,61.17 23.33,60.83 21.00,61.00 C18.67,61.17 16.50,61.17 15.00,61.00 C13.50,60.83 12.67,61.50 12.00,60.00 Z" fill="#000" fill-opacity="0.06" stroke="#777" stroke-width="0.4" /><path d="M13.44,57.36 C12.83,56.02 12.57,52.72 12.44,50.37 C12.31,48.02 12.40,45.48 12.66,43.25 C12.92,41.01 13.36,38.83 13.98,36.97 C14.60,35.10 15.39,33.32 16.38,32.06 C17.37,30.80 18.54,29.83 19.95,29.38 C21.36,28.93 23.43,29.00 24.84,29.38 C26.25,29.76 27.48,30.51 28.41,31.64 C29.33,32.77 30.00,34.51 30.40,36.16 C30.80,37.81 30.78,39.76 30.78,41.57 C30.78,43.38 30.65,45.21 30.40,47.01 C30.15,48.80 29.64,50.58 29.28,52.34 C28.92,54.10 29.58,56.55 28.25,57.57 C26.92,58.59 23.31,58.33 21.29,58.47 C19.26,58.61 17.40,58.59 16.09,58.41 C14.78,58.22 14.05,58.70 13.44,57.36 Z" fill="#000" fill-opacity="0.085" stroke="#777" stroke-width="0.4" /><path d="M14.88,54.72 C14.33,53.54 14.02,50.77 13.88,48.74 C13.74,46.70 13.81,44.46 14.02,42.50 C14.23,40.53 14.63,38.58 15.17,36.94 C15.71,35.29 16.39,33.73 17.26,32.62 C18.13,31.51 19.16,30.65 20.40,30.26 C21.63,29.87 23.44,29.92 24.68,30.26 C25.92,30.60 27.00,31.27 27.82,32.28 C28.64,33.29 29.24,34.84 29.60,36.32 C29.96,37.80 29.97,39.52 29.97,41.14 C29.97,42.75 29.83,44.43 29.60,46.02 C29.37,47.61 28.91,49.15 28.56,50.67 C28.21,52.19 28.66,54.26 27.50,55.14 C26.33,56.01 23.30,55.83 21.58,55.94 C19.86,56.06 18.29,56.02 17.18,55.82 C16.06,55.61 15.43,55.90 14.88,54.72 Z" fill="#000" fill-opacity="0.11" stroke="#777" stroke-width="0.4" /><path d="M16.32,52.08 C15.83,51.06 15.48,48.83 15.32,47.10 C15.16,45.38 15.21,43.44 15.38,41.74 C15.55,40.04 15.89,38.33 16.35,36.90 C16.81,35.48 17.39,34.14 18.14,33.18 C18.89,32.22 19.78,31.48 20.84,31.14 C21.91,30.80 23.46,30.84 24.52,31.14 C25.58,31.44 26.51,32.03 27.22,32.92 C27.94,33.81 28.48,35.18 28.80,36.48 C29.12,37.78 29.15,39.28 29.15,40.70 C29.15,42.13 29.02,43.64 28.80,45.02 C28.58,46.41 28.18,47.73 27.84,49.01 C27.50,50.29 27.74,51.97 26.74,52.70 C25.75,53.44 23.28,53.33 21.86,53.42 C20.45,53.50 19.19,53.45 18.26,53.22 C17.34,53.00 16.81,53.10 16.32,52.08 Z" fill="#000" fill-opacity="0.15" stroke="#777" stroke-width="0.4" /><path d="M17.58,49.77 C17.14,48.89 16.75,47.12 16.58,45.68 C16.41,44.23 16.44,42.55 16.57,41.09 C16.70,39.62 17.00,38.11 17.39,36.88 C17.78,35.64 18.27,34.50 18.91,33.67 C19.55,32.84 20.32,32.20 21.24,31.91 C22.15,31.62 23.47,31.65 24.38,31.91 C25.29,32.17 26.09,32.70 26.71,33.48 C27.33,34.26 27.81,35.48 28.10,36.62 C28.39,37.76 28.44,39.07 28.44,40.33 C28.44,41.58 28.30,42.95 28.10,44.16 C27.90,45.36 27.55,46.48 27.21,47.55 C26.87,48.62 26.93,49.97 26.09,50.58 C25.24,51.18 23.26,51.14 22.12,51.20 C20.97,51.27 19.97,51.19 19.22,50.96 C18.46,50.72 18.02,50.65 17.58,49.77 Z" fill="#000" fill-opacity="0.2" stroke="#777" stroke-width="0.4" /><path d="M18.84,47.46 C18.45,46.72 18.02,45.42 17.84,44.25 C17.66,43.08 17.66,41.66 17.76,40.43 C17.86,39.19 18.10,37.89 18.42,36.85 C18.74,35.80 19.15,34.85 19.68,34.16 C20.21,33.47 20.87,32.93 21.63,32.68 C22.39,32.43 23.48,32.45 24.24,32.68 C25.00,32.91 25.66,33.36 26.19,34.04 C26.71,34.72 27.14,35.78 27.40,36.76 C27.66,37.74 27.72,38.86 27.72,39.95 C27.72,41.04 27.59,42.26 27.40,43.29 C27.21,44.31 26.91,45.24 26.58,46.10 C26.25,46.96 26.13,47.97 25.43,48.45 C24.73,48.93 23.24,48.95 22.37,48.99 C21.49,49.03 20.76,48.94 20.17,48.69 C19.58,48.43 19.23,48.20 18.84,47.46 Z" fill="#000" fill-opacity="0.25" stroke="#777" stroke-width="0.4" /><path d="M19.92,45.48 C19.58,44.86 19.11,43.96 18.92,43.02 C18.73,42.09 18.71,40.90 18.78,39.86 C18.85,38.83 19.05,37.70 19.31,36.82 C19.57,35.94 19.90,35.16 20.34,34.58 C20.78,34.00 21.33,33.55 21.96,33.34 C22.59,33.13 23.49,33.14 24.12,33.34 C24.75,33.54 25.30,33.93 25.74,34.52 C26.19,35.11 26.57,36.03 26.80,36.88 C27.03,37.73 27.11,38.68 27.11,39.62 C27.11,40.57 26.98,41.67 26.80,42.54 C26.62,43.41 26.36,44.17 26.04,44.85 C25.72,45.53 25.44,46.25 24.86,46.62 C24.29,47.00 23.23,47.08 22.58,47.10 C21.94,47.12 21.43,47.01 20.98,46.74 C20.54,46.47 20.26,46.10 19.92,45.48 Z" fill="#000" fill-opacity="0.3" stroke="#777" stroke-width="0.4" /><ellipse cx="22.9" cy="39.0" rx="5.0" ry="6.6" fill="#7a7a7a" fill-opacity="0.35" stroke="#444" stroke-opacity="0.8" stroke-width="1.5" filter="url(#bl1)"/><ellipse cx="22.9" cy="39.0" rx="5.0" ry="6.6" fill="none" stroke="#262626" stroke-width="1.8" stroke-dasharray="15.8 60" stroke-dashoffset="7.3" filter="url(#bl1)"/><ellipse cx="22.5" cy="38.8" rx="1.5" ry="1.4" fill="#e4e4e4" filter="url(#bl1)"/><path d="M0.4,22 C2.2,25 3.6,29 3.6,39.95 C3.6,51.9 2.8,55.9 0.4,57.9 Z" fill="#151515" filter="url(#bl1)"/></g>
<rect x="1.2" y="26.5" width="53.2" height="31.4" fill="none" stroke="#8a8a8a" stroke-width="0.8"/>
<line x1="18.5" y1="26.5" x2="18.5" y2="57.9" stroke="#6a6a6a" stroke-width="0.8"/>
<line x1="31.4" y1="26.5" x2="31.4" y2="57.9" stroke="#6a6a6a" stroke-width="0.8"/>
<text transform="translate(1.0,8.8) scale(1.07,1)" font-size="9.0" fill="#2a2a2a" stroke="#2a2a2a" stroke-width="0.12">33</text>
<text transform="translate(21.5,8.8) scale(1.07,1)" font-size="9.0" fill="#2a2a2a" stroke="#2a2a2a" stroke-width="0.12">50</text>
<text transform="translate(38.8,8.8) scale(1.07,1)" font-size="9.0" fill="#2a2a2a" stroke="#2a2a2a" stroke-width="0.12">0.28</text>
</g>
<g transform="translate(418.2,306.5)">
<g clip-path="url(#cclip)"><path d="M1.5,58 L1.5,36 C5,33 9,34 12,38 C15,43 17,50 18.4,58 Z" fill="#f4f4f4" stroke="#8a8a8a" stroke-width="0.45"/><path d="M3,48 C6,45 10,46 13,50 M4,53 C7,51 11,52 14,55 M3,42 C6,40 9,41 11,44" fill="none" stroke="#999" stroke-width="0.45"/><ellipse cx="12.5" cy="43" rx="9" ry="11" fill="#7a7a7a" opacity="0.38" filter="url(#bl2)"/><path d="M9.00,60.00 C8.17,58.50 8.08,54.50 8.00,52.00 C7.92,49.50 8.00,47.33 8.50,45.00 C9.00,42.67 9.92,40.17 11.00,38.00 C12.08,35.83 13.58,33.58 15.00,32.00 C16.42,30.42 18.00,29.08 19.50,28.50 C21.00,27.92 22.67,28.08 24.00,28.50 C25.33,28.92 26.58,29.75 27.50,31.00 C28.42,32.25 29.08,34.17 29.50,36.00 C29.92,37.83 29.95,40.00 30.00,42.00 C30.05,44.00 29.97,46.00 29.80,48.00 C29.63,50.00 29.30,52.00 29.00,54.00 C28.70,56.00 29.50,58.83 28.00,60.00 C26.50,61.17 22.50,60.83 20.00,61.00 C17.50,61.17 14.83,61.17 13.00,61.00 C11.17,60.83 9.83,61.50 9.00,60.00 Z" fill="#000" fill-opacity="0.06" stroke="#777" stroke-width="0.4" /><path d="M10.73,57.68 C9.97,56.35 9.82,52.90 9.71,50.69 C9.60,48.48 9.66,46.50 10.08,44.41 C10.51,42.31 11.30,40.06 12.25,38.13 C13.19,36.19 14.50,34.20 15.75,32.80 C17.00,31.40 18.41,30.24 19.74,29.73 C21.07,29.22 22.57,29.37 23.76,29.75 C24.95,30.12 26.08,30.88 26.91,31.99 C27.74,33.11 28.35,34.81 28.73,36.45 C29.11,38.09 29.16,40.04 29.20,41.84 C29.24,43.64 29.16,45.45 29.00,47.23 C28.84,49.02 28.53,50.80 28.23,52.56 C27.93,54.32 28.52,56.78 27.20,57.81 C25.88,58.83 22.45,58.57 20.29,58.71 C18.13,58.85 15.83,58.82 14.23,58.65 C12.64,58.48 11.48,59.01 10.73,57.68 Z" fill="#000" fill-opacity="0.085" stroke="#777" stroke-width="0.4" /><path d="M12.46,55.36 C11.78,54.21 11.56,51.30 11.42,49.38 C11.29,47.45 11.32,45.67 11.67,43.82 C12.01,41.96 12.69,39.96 13.50,38.26 C14.30,36.55 15.42,34.82 16.50,33.60 C17.58,32.38 18.81,31.40 19.98,30.96 C21.15,30.53 22.46,30.66 23.52,31.00 C24.58,31.33 25.58,32.00 26.32,32.98 C27.06,33.97 27.62,35.45 27.96,36.90 C28.31,38.35 28.36,40.09 28.40,41.68 C28.44,43.27 28.36,44.89 28.20,46.46 C28.04,48.04 27.76,49.59 27.46,51.12 C27.16,52.65 27.55,54.73 26.40,55.62 C25.25,56.50 22.40,56.31 20.58,56.42 C18.75,56.54 16.82,56.47 15.46,56.30 C14.11,56.12 13.13,56.51 12.46,55.36 Z" fill="#000" fill-opacity="0.11" stroke="#777" stroke-width="0.4" /><path d="M14.18,53.04 C13.59,52.06 13.29,49.70 13.14,48.06 C12.98,46.43 12.98,44.84 13.25,43.22 C13.52,41.61 14.08,39.85 14.74,38.38 C15.41,36.91 16.34,35.43 17.26,34.40 C18.17,33.37 19.22,32.56 20.22,32.20 C21.22,31.84 22.36,31.95 23.28,32.24 C24.20,32.54 25.07,33.13 25.72,33.98 C26.38,34.83 26.88,36.09 27.20,37.34 C27.51,38.60 27.57,40.13 27.60,41.52 C27.63,42.91 27.55,44.34 27.40,45.70 C27.25,47.06 27.00,48.39 26.70,49.68 C26.40,50.97 26.57,52.68 25.60,53.42 C24.63,54.17 22.35,54.05 20.86,54.14 C19.38,54.22 17.81,54.13 16.70,53.94 C15.58,53.76 14.78,54.02 14.18,53.04 Z" fill="#000" fill-opacity="0.15" stroke="#777" stroke-width="0.4" /><path d="M15.70,51.01 C15.17,50.18 14.81,48.30 14.63,46.92 C14.46,45.53 14.44,44.11 14.64,42.71 C14.84,41.30 15.29,39.76 15.84,38.50 C16.38,37.23 17.15,35.97 17.91,35.10 C18.68,34.23 19.57,33.57 20.43,33.27 C21.29,32.98 22.27,33.07 23.07,33.34 C23.87,33.60 24.63,34.11 25.21,34.84 C25.78,35.58 26.24,36.65 26.52,37.74 C26.81,38.83 26.87,40.17 26.90,41.38 C26.93,42.59 26.85,43.85 26.70,45.02 C26.55,46.20 26.32,47.34 26.02,48.42 C25.72,49.50 25.72,50.89 24.90,51.51 C24.08,52.12 22.30,52.07 21.12,52.13 C19.93,52.20 18.68,52.07 17.77,51.89 C16.87,51.70 16.22,51.84 15.70,51.01 Z" fill="#000" fill-opacity="0.2" stroke="#777" stroke-width="0.4" /><path d="M17.21,48.98 C16.75,48.30 16.33,46.90 16.13,45.77 C15.93,44.64 15.89,43.38 16.02,42.19 C16.16,40.99 16.50,39.67 16.93,38.61 C17.35,37.54 17.95,36.51 18.57,35.80 C19.19,35.09 19.93,34.58 20.64,34.35 C21.35,34.12 22.19,34.20 22.86,34.43 C23.53,34.65 24.19,35.10 24.69,35.71 C25.19,36.33 25.60,37.21 25.85,38.13 C26.10,39.05 26.18,40.20 26.20,41.24 C26.22,42.28 26.14,43.37 26.00,44.35 C25.86,45.34 25.65,46.29 25.35,47.16 C25.05,48.03 24.86,49.09 24.20,49.59 C23.54,50.08 22.26,50.09 21.37,50.13 C20.48,50.17 19.55,50.02 18.85,49.83 C18.16,49.64 17.66,49.66 17.21,48.98 Z" fill="#000" fill-opacity="0.25" stroke="#777" stroke-width="0.4" /><path d="M18.50,47.24 C18.11,46.69 17.63,45.70 17.42,44.78 C17.20,43.87 17.14,42.76 17.21,41.74 C17.29,40.73 17.54,39.59 17.86,38.70 C18.18,37.81 18.64,36.97 19.14,36.40 C19.63,35.83 20.23,35.45 20.82,35.28 C21.41,35.10 22.11,35.17 22.68,35.36 C23.25,35.56 23.81,35.94 24.24,36.46 C24.68,36.97 25.05,37.69 25.28,38.46 C25.50,39.24 25.58,40.23 25.60,41.12 C25.62,42.01 25.54,42.95 25.40,43.78 C25.26,44.60 25.08,45.39 24.78,46.08 C24.48,46.77 24.13,47.55 23.60,47.94 C23.07,48.33 22.22,48.40 21.58,48.42 C20.95,48.44 20.29,48.26 19.78,48.06 C19.26,47.87 18.90,47.79 18.50,47.24 Z" fill="#000" fill-opacity="0.3" stroke="#777" stroke-width="0.4" /><ellipse cx="21.6" cy="41.0" rx="4.4" ry="6.4" fill="#7a7a7a" fill-opacity="0.35" stroke="#444" stroke-opacity="0.8" stroke-width="1.5" filter="url(#bl1)"/><ellipse cx="21.6" cy="41.0" rx="4.4" ry="6.4" fill="none" stroke="#262626" stroke-width="1.8" stroke-dasharray="15.4 60" stroke-dashoffset="7.0" filter="url(#bl1)"/><ellipse cx="21.200000000000003" cy="40.8" rx="1.5" ry="1.4" fill="#e4e4e4" filter="url(#bl1)"/><rect x="1" y="54.5" width="2.6" height="3.4" fill="#2a2a2a" filter="url(#bl1)"/></g>
<rect x="1.2" y="26.1" width="49.4" height="31.8" fill="none" stroke="#8a8a8a" stroke-width="0.8"/>
<line x1="18.4" y1="26.1" x2="18.4" y2="57.9" stroke="#6a6a6a" stroke-width="0.8"/>
<line x1="30.9" y1="26.1" x2="30.9" y2="57.9" stroke="#6a6a6a" stroke-width="0.8"/>
<text transform="translate(0.9,9.8) scale(1.07,1)" font-size="9.0" fill="#2a2a2a" stroke="#2a2a2a" stroke-width="0.12">36</text>
<text transform="translate(19.2,9.8) scale(1.07,1)" font-size="9.0" fill="#2a2a2a" stroke="#2a2a2a" stroke-width="0.12">59</text>
<text transform="translate(45.5,9.8) scale(1.07,1)" font-size="9.0" fill="#2a2a2a" stroke="#2a2a2a" stroke-width="0.12">1.1</text>
</g>
<rect x="279.3" y="176.4" width="58.60" height="57.90" fill="none" stroke="#9a9a9a" stroke-width="0.9"/>
<rect x="279.3" y="240.2" width="58.60" height="57.80" fill="none" stroke="#9a9a9a" stroke-width="0.9"/>
<rect x="279.3" y="306.5" width="58.60" height="58.00" fill="none" stroke="#9a9a9a" stroke-width="0.9"/>
<rect x="349.2" y="176.4" width="58.00" height="57.90" fill="none" stroke="#9a9a9a" stroke-width="0.9"/>
<rect x="349.2" y="240.2" width="58.00" height="57.80" fill="none" stroke="#9a9a9a" stroke-width="0.9"/>
<rect x="349.2" y="306.5" width="58.00" height="58.00" fill="none" stroke="#9a9a9a" stroke-width="0.9"/>
<rect x="418.2" y="176.4" width="58.80" height="57.90" fill="none" stroke="#9a9a9a" stroke-width="0.9"/>
<rect x="418.2" y="240.2" width="58.80" height="57.80" fill="none" stroke="#9a9a9a" stroke-width="0.9"/>
<rect x="418.2" y="306.5" width="58.80" height="58.00" fill="none" stroke="#9a9a9a" stroke-width="0.9"/>
<text transform="translate(305.78,171.10) scale(1.113,1)" font-size="9.38" font-weight="normal" fill="#111" stroke="#111" stroke-width="0.35">d9</text>
<text transform="translate(369.92,171.00) scale(1.200,1)" font-size="9.93" font-weight="normal" fill="#111" letter-spacing="0.32" stroke="#111" stroke-width="0.35">dI6</text>
<text transform="translate(439.66,171.00) scale(1.107,1)" font-size="9.93" font-weight="normal" fill="#111" stroke="#111" stroke-width="0.35">d2I</text>
<line x1="270.6" y1="327.8" x2="270.6" y2="189" stroke="#111" stroke-width="1.1"/>
<path d="M268.3,190.1 L272.9,190.1 L270.6,185.3 Z" fill="#111"/>
<text transform="translate(273.50,364.24) rotate(-90) scale(0.987,1)" font-size="9.00" font-weight="normal" fill="#111" stroke="#111" stroke-width="0.35">CD38</text>
<text transform="translate(278.87,374.20) scale(1.020,1)" font-size="8.43" font-weight="normal" fill="#111" stroke="#111" stroke-width="0.35">CD45RA</text>
<line x1="320.9" y1="371.5" x2="468" y2="371.5" stroke="#111" stroke-width="1.1"/>
<path d="M467.0,369.2 L467.0,373.8 L472.0,371.5 Z" fill="#111"/>
<text transform="translate(488.78,211.80) scale(1.164,1)" font-size="10.62" font-weight="normal" fill="#111" stroke="#111" stroke-width="0.35">Ctrl</text>
<text transform="translate(489.16,277.20) scale(0.958,1)" font-size="11.01" font-weight="normal" fill="#111" stroke="#111" stroke-width="0.35">DL4</text>
<text transform="translate(508.8,273.3) scale(1.05,1)" font-size="6.4" fill="#111" stroke="#111" stroke-width="0.25">hi</text>
<text transform="translate(488.66,341.30) scale(0.965,1)" font-size="10.87" font-weight="normal" fill="#111" stroke="#111" stroke-width="0.35">DL4</text>
<text transform="translate(508.4,337.8) scale(1.1,1)" font-size="6.4" fill="#111" stroke="#111" stroke-width="0.25">low</text>
</svg></body></html>
